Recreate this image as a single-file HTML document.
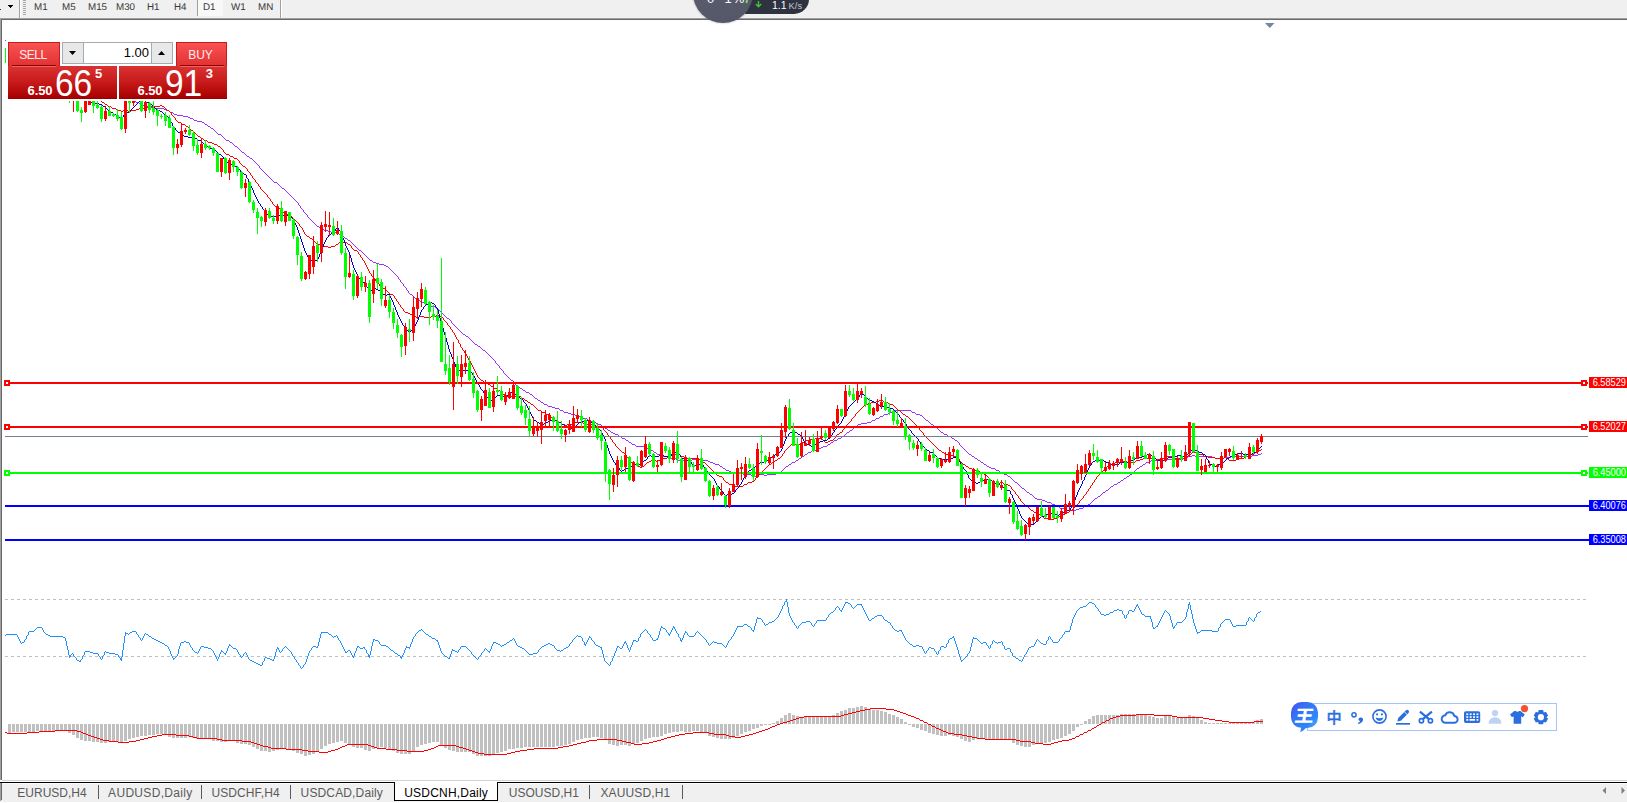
<!DOCTYPE html>
<html><head><meta charset="utf-8"><title>USDCNH,Daily</title>
<style>
html,body{margin:0;padding:0}
body{width:1627px;height:803px;overflow:hidden;background:#fff;position:relative;font-family:"Liberation Sans","Noto Sans CJK SC",sans-serif}
.abs{position:absolute}
#topbar{left:0;top:0;width:1627px;height:18px;background:#f0f0f0}
#topline1{left:0;top:18px;width:1627px;height:1px;background:#a0a0a0}
#topline2{left:1px;top:19px;width:1626px;height:1px;background:#696969}
#leftl1{left:0;top:18px;width:1px;height:762px;background:#a0a0a0}
#leftl2{left:1px;top:19px;width:1px;height:761px;background:#696969}
.tf{position:absolute;top:1px;height:13px;line-height:13px;font-size:9.8px;text-rendering:geometricPrecision;color:#383838;white-space:nowrap}
#tabbar{left:0;top:783px;width:1627px;height:19px;background:#f0f0f0;border-top:1px solid #fafafa;box-sizing:border-box}
#tabline0{left:2px;top:780px;width:1625px;height:1px;background:#d2d2d2;z-index:3}
#tabline{left:0;top:782px;width:1627px;height:1px;background:#000}
.tab{position:absolute;margin-left:0.5px;top:785.6px;height:15px;line-height:15px;font-size:12px;color:#5a5a5a;white-space:nowrap}
.sep{position:absolute;top:785px;width:1px;height:14px;background:#5a5a5a}
#acttab{left:394px;top:782px;width:102px;height:18px;background:#fff;border:1px solid #000;border-top:none}
/* trade panel */
.rbtn{position:absolute;background:linear-gradient(#f85252,#e23232);border:1px solid #c81c1c;border-bottom:none;box-sizing:border-box;color:#ffecec;font-size:12px;text-align:center;letter-spacing:-0.5px}
.pbox{position:absolute;top:66px;height:33px;background:linear-gradient(#da3232 0%,#c81a1a 50%,#a80000 100%);color:#fff;box-sizing:border-box;border-bottom:1px solid #9a0000}
.pbox span{position:absolute;white-space:nowrap}
.sm{font-size:13px;font-weight:bold;top:17.7px;line-height:14px;letter-spacing:-0.1px}
.bg{font-size:36px;top:-2px;line-height:34px;margin-top:2.6px;transform:scaleX(.93);transform-origin:0 0}
.sup{font-size:13px;font-weight:bold;top:1.5px;line-height:12px}
</style></head><body>
<svg id="chart" width="1627" height="803" viewBox="0 0 1627 803" style="position:absolute;left:0;top:0">
<defs><clipPath id="cp"><rect x="0" y="101" width="1627" height="500"/></clipPath></defs>
<g clip-path="url(#cp)"><path d="M259 166h1v2h-1zM298 203h1v2h-1zM300 206h1v2h-1zM303 210h1v2h-1zM307 215h1v2h-1zM398 277h1v2h-1zM400 280h1v2h-1zM403 284h1v2h-1zM406 288h1v2h-1zM408 291h1v2h-1zM451 321h1v2h-1zM495 361h1v2h-1zM499 366h1v2h-1zM503 371h1v2h-1zM515 383h1v2h-1zM959 443h1v2h-1zM135 101h1v1h-1zM136 102h3v1h-3zM139 103h1v1h-1zM140 104h3v1h-3zM143 105h1v1h-1zM144 106h4v1h-4zM148 107h7v1h-7zM155 108h9v1h-9zM164 109h2v1h-2zM166 110h3v1h-3zM169 111h1v1h-1zM170 112h3v1h-3zM173 113h1v1h-1zM174 114h3v1h-3zM177 115h6v1h-6zM183 116h5v1h-5zM188 117h2v1h-2zM190 118h3v1h-3zM193 119h1v1h-1zM194 120h3v1h-3zM197 121h5v1h-5zM202 122h2v1h-2zM204 123h1v1h-1zM205 124h2v1h-2zM207 125h1v1h-1zM208 126h2v1h-2zM210 127h1v1h-1zM211 128h2v1h-2zM213 129h1v1h-1zM214 130h1v1h-1zM215 131h1v1h-1zM216 132h1v1h-1zM217 133h1v1h-1zM218 134h3v1h-3zM221 135h1v1h-1zM222 136h1v1h-1zM223 137h1v1h-1zM224 138h1v1h-1zM225 139h1v1h-1zM226 140h3v1h-3zM229 141h1v1h-1zM230 142h2v1h-2zM232 143h1v1h-1zM233 144h1v1h-1zM234 145h1v1h-1zM235 146h2v1h-2zM237 147h1v1h-1zM238 148h1v1h-1zM239 149h1v1h-1zM240 150h1v1h-1zM241 151h1v1h-1zM242 152h2v1h-2zM244 153h1v1h-1zM245 154h1v1h-1zM246 155h1v1h-1zM247 156h2v1h-2zM249 157h1v1h-1zM250 158h2v1h-2zM252 159h1v1h-1zM253 160h1v1h-1zM254 161h1v1h-1zM255 162h1v1h-1zM256 163h1v1h-1zM257 164h1v1h-1zM258 165h1v1h-1zM260 168h1v1h-1zM261 169h1v1h-1zM262 170h1v1h-1zM263 171h1v1h-1zM264 172h1v1h-1zM265 173h1v1h-1zM266 174h1v1h-1zM267 175h1v1h-1zM268 176h1v1h-1zM269 177h1v1h-1zM270 178h1v1h-1zM271 179h1v1h-1zM272 180h1v1h-1zM273 181h1v1h-1zM274 182h3v1h-3zM277 183h1v1h-1zM278 184h1v1h-1zM279 185h1v1h-1zM280 186h1v1h-1zM281 187h1v1h-1zM282 188h2v1h-2zM284 189h1v1h-1zM285 190h1v1h-1zM286 191h1v1h-1zM287 192h1v1h-1zM288 193h1v1h-1zM289 194h1v1h-1zM290 195h1v1h-1zM291 196h1v1h-1zM292 197h1v1h-1zM293 198h1v1h-1zM294 199h1v1h-1zM295 200h1v1h-1zM296 201h1v1h-1zM297 202h1v1h-1zM299 205h1v1h-1zM301 208h1v1h-1zM302 209h1v1h-1zM304 212h1v1h-1zM305 213h1v1h-1zM306 214h1v1h-1zM308 217h1v1h-1zM309 218h1v1h-1zM310 219h1v1h-1zM311 220h1v1h-1zM312 221h1v1h-1zM313 222h1v1h-1zM314 223h1v1h-1zM315 224h1v1h-1zM316 225h1v1h-1zM317 226h2v1h-2zM319 227h1v1h-1zM320 228h3v1h-3zM323 229h1v1h-1zM324 230h4v1h-4zM328 231h3v1h-3zM331 232h5v1h-5zM336 233h3v1h-3zM339 234h3v1h-3zM342 235h1v1h-1zM343 236h1v1h-1zM344 237h1v1h-1zM345 238h2v1h-2zM347 239h1v1h-1zM348 240h2v1h-2zM350 241h1v1h-1zM351 242h1v1h-1zM352 243h1v1h-1zM353 244h1v1h-1zM354 245h1v1h-1zM355 246h1v1h-1zM356 247h1v1h-1zM357 248h1v1h-1zM358 249h1v1h-1zM359 250h2v1h-2zM361 251h1v1h-1zM362 252h1v1h-1zM363 253h1v1h-1zM364 254h1v1h-1zM365 255h1v1h-1zM366 256h1v1h-1zM367 257h1v1h-1zM368 258h1v1h-1zM369 259h1v1h-1zM370 260h2v1h-2zM372 261h1v1h-1zM373 262h3v1h-3zM376 263h3v1h-3zM379 264h5v1h-5zM384 265h2v1h-2zM386 266h2v1h-2zM388 267h1v1h-1zM389 268h1v1h-1zM390 269h1v1h-1zM391 270h1v1h-1zM392 271h1v1h-1zM393 272h1v1h-1zM394 273h1v1h-1zM395 274h1v1h-1zM396 275h1v1h-1zM397 276h1v1h-1zM399 279h1v1h-1zM401 282h1v1h-1zM402 283h1v1h-1zM404 286h1v1h-1zM405 287h1v1h-1zM407 290h1v1h-1zM409 293h1v1h-1zM410 294h2v1h-2zM412 295h1v1h-1zM413 296h1v1h-1zM414 297h1v1h-1zM415 298h1v1h-1zM416 299h1v1h-1zM417 300h3v1h-3zM420 301h2v1h-2zM422 302h3v1h-3zM425 303h1v1h-1zM426 304h3v1h-3zM429 305h2v1h-2zM431 306h4v1h-4zM435 307h1v1h-1zM436 308h2v1h-2zM438 309h1v1h-1zM439 310h1v1h-1zM440 311h1v1h-1zM441 312h1v1h-1zM442 313h1v1h-1zM443 314h1v1h-1zM444 315h1v1h-1zM445 316h1v1h-1zM446 317h1v1h-1zM447 318h2v1h-2zM449 319h1v1h-1zM450 320h1v1h-1zM452 323h1v1h-1zM453 324h1v1h-1zM454 325h1v1h-1zM455 326h1v1h-1zM456 327h1v1h-1zM457 328h1v1h-1zM458 329h1v1h-1zM459 330h1v1h-1zM460 331h1v1h-1zM461 332h1v1h-1zM462 333h1v1h-1zM463 334h2v1h-2zM465 335h1v1h-1zM466 336h2v1h-2zM468 337h1v1h-1zM469 338h1v1h-1zM470 339h1v1h-1zM471 340h1v1h-1zM472 341h1v1h-1zM473 342h1v1h-1zM474 343h1v1h-1zM475 344h2v1h-2zM477 345h1v1h-1zM478 346h2v1h-2zM480 347h1v1h-1zM481 348h1v1h-1zM482 349h1v1h-1zM483 350h2v1h-2zM485 351h1v1h-1zM486 352h1v1h-1zM487 353h1v1h-1zM488 354h1v1h-1zM489 355h1v1h-1zM490 356h1v1h-1zM491 357h1v1h-1zM492 358h1v1h-1zM493 359h1v1h-1zM494 360h1v1h-1zM496 363h1v1h-1zM497 364h1v1h-1zM498 365h1v1h-1zM500 368h1v1h-1zM501 369h1v1h-1zM502 370h1v1h-1zM504 373h1v1h-1zM505 374h1v1h-1zM506 375h1v1h-1zM507 376h1v1h-1zM508 377h1v1h-1zM509 378h1v1h-1zM510 379h1v1h-1zM511 380h2v1h-2zM513 381h1v1h-1zM514 382h1v1h-1zM516 385h1v1h-1zM517 386h2v1h-2zM519 387h1v1h-1zM520 388h2v1h-2zM522 389h1v1h-1zM523 390h2v1h-2zM525 391h1v1h-1zM526 392h3v1h-3zM529 393h1v1h-1zM530 394h2v1h-2zM532 395h1v1h-1zM533 396h1v1h-1zM534 397h1v1h-1zM535 398h2v1h-2zM537 399h1v1h-1zM538 400h2v1h-2zM540 401h1v1h-1zM541 402h2v1h-2zM543 403h1v1h-1zM544 404h3v1h-3zM547 405h1v1h-1zM548 406h4v1h-4zM552 407h3v1h-3zM555 408h4v1h-4zM559 409h1v1h-1zM560 410h3v1h-3zM895 410h16v1h-16zM563 411h1v1h-1zM893 411h2v1h-2zM911 411h1v1h-1zM564 412h4v1h-4zM890 412h3v1h-3zM912 412h3v1h-3zM568 413h3v1h-3zM888 413h2v1h-2zM915 413h1v1h-1zM571 414h4v1h-4zM884 414h4v1h-4zM916 414h4v1h-4zM575 415h1v1h-1zM883 415h1v1h-1zM920 415h2v1h-2zM576 416h4v1h-4zM880 416h3v1h-3zM922 416h1v1h-1zM580 417h3v1h-3zM879 417h1v1h-1zM923 417h1v1h-1zM583 418h4v1h-4zM876 418h3v1h-3zM924 418h1v1h-1zM587 419h1v1h-1zM875 419h1v1h-1zM925 419h1v1h-1zM588 420h3v1h-3zM872 420h3v1h-3zM926 420h2v1h-2zM591 421h1v1h-1zM871 421h1v1h-1zM928 421h1v1h-1zM592 422h4v1h-4zM867 422h4v1h-4zM929 422h1v1h-1zM596 423h2v1h-2zM861 423h6v1h-6zM930 423h1v1h-1zM598 424h3v1h-3zM858 424h3v1h-3zM931 424h2v1h-2zM601 425h1v1h-1zM857 425h1v1h-1zM933 425h1v1h-1zM602 426h2v1h-2zM855 426h2v1h-2zM934 426h2v1h-2zM604 427h1v1h-1zM854 427h1v1h-1zM936 427h1v1h-1zM605 428h2v1h-2zM853 428h1v1h-1zM937 428h1v1h-1zM607 429h1v1h-1zM852 429h1v1h-1zM938 429h1v1h-1zM608 430h2v1h-2zM850 430h2v1h-2zM939 430h1v1h-1zM610 431h1v1h-1zM849 431h1v1h-1zM940 431h1v1h-1zM611 432h2v1h-2zM847 432h2v1h-2zM941 432h2v1h-2zM613 433h2v1h-2zM846 433h1v1h-1zM943 433h1v1h-1zM615 434h3v1h-3zM845 434h1v1h-1zM944 434h3v1h-3zM618 435h1v1h-1zM844 435h1v1h-1zM947 435h1v1h-1zM619 436h2v1h-2zM842 436h2v1h-2zM948 436h3v1h-3zM621 437h1v1h-1zM841 437h1v1h-1zM951 437h1v1h-1zM622 438h3v1h-3zM838 438h3v1h-3zM952 438h2v1h-2zM625 439h1v1h-1zM837 439h1v1h-1zM954 439h1v1h-1zM626 440h2v1h-2zM834 440h3v1h-3zM955 440h2v1h-2zM628 441h1v1h-1zM833 441h1v1h-1zM957 441h1v1h-1zM629 442h2v1h-2zM831 442h2v1h-2zM958 442h1v1h-1zM631 443h1v1h-1zM830 443h1v1h-1zM632 444h3v1h-3zM828 444h2v1h-2zM635 445h1v1h-1zM827 445h1v1h-1zM960 445h1v1h-1zM636 446h8v1h-8zM823 446h4v1h-4zM961 446h1v1h-1zM644 447h2v1h-2zM821 447h2v1h-2zM962 447h1v1h-1zM646 448h3v1h-3zM818 448h3v1h-3zM963 448h1v1h-1zM649 449h1v1h-1zM816 449h2v1h-2zM964 449h1v1h-1zM650 450h3v1h-3zM812 450h4v1h-4zM965 450h1v1h-1zM653 451h1v1h-1zM811 451h1v1h-1zM966 451h1v1h-1zM654 452h2v1h-2zM808 452h3v1h-3zM967 452h1v1h-1zM656 453h1v1h-1zM807 453h1v1h-1zM968 453h1v1h-1zM1261 453h1v1h-1zM657 454h3v1h-3zM805 454h2v1h-2zM969 454h2v1h-2zM1258 454h3v1h-3zM660 455h3v1h-3zM804 455h1v1h-1zM971 455h1v1h-1zM1192 455h3v1h-3zM1252 455h6v1h-6zM663 456h4v1h-4zM802 456h2v1h-2zM972 456h2v1h-2zM1188 456h4v1h-4zM1195 456h17v1h-17zM1231 456h21v1h-21zM667 457h1v1h-1zM801 457h1v1h-1zM974 457h1v1h-1zM1187 457h1v1h-1zM1212 457h3v1h-3zM1224 457h7v1h-7zM668 458h8v1h-8zM799 458h2v1h-2zM975 458h2v1h-2zM1183 458h4v1h-4zM1215 458h9v1h-9zM676 459h2v1h-2zM692 459h11v1h-11zM798 459h1v1h-1zM977 459h1v1h-1zM1164 459h19v1h-19zM678 460h3v1h-3zM683 460h9v1h-9zM703 460h5v1h-5zM796 460h2v1h-2zM978 460h2v1h-2zM1151 460h13v1h-13zM681 461h2v1h-2zM708 461h2v1h-2zM795 461h1v1h-1zM980 461h1v1h-1zM1149 461h2v1h-2zM710 462h3v1h-3zM792 462h3v1h-3zM981 462h2v1h-2zM1146 462h3v1h-3zM713 463h2v1h-2zM791 463h1v1h-1zM983 463h1v1h-1zM1145 463h1v1h-1zM715 464h4v1h-4zM789 464h2v1h-2zM984 464h2v1h-2zM1143 464h2v1h-2zM719 465h1v1h-1zM788 465h1v1h-1zM986 465h1v1h-1zM1142 465h1v1h-1zM720 466h2v1h-2zM786 466h2v1h-2zM987 466h2v1h-2zM1140 466h2v1h-2zM722 467h1v1h-1zM785 467h1v1h-1zM989 467h2v1h-2zM1139 467h1v1h-1zM723 468h2v1h-2zM784 468h1v1h-1zM991 468h4v1h-4zM1137 468h2v1h-2zM725 469h1v1h-1zM783 469h1v1h-1zM995 469h1v1h-1zM1136 469h1v1h-1zM726 470h3v1h-3zM782 470h1v1h-1zM996 470h3v1h-3zM1135 470h1v1h-1zM729 471h2v1h-2zM781 471h1v1h-1zM999 471h1v1h-1zM1134 471h1v1h-1zM731 472h9v1h-9zM778 472h3v1h-3zM1000 472h3v1h-3zM1133 472h1v1h-1zM740 473h3v1h-3zM776 473h2v1h-2zM1003 473h1v1h-1zM1132 473h1v1h-1zM743 474h8v1h-8zM759 474h5v1h-5zM767 474h9v1h-9zM1004 474h3v1h-3zM1130 474h2v1h-2zM751 475h1v1h-1zM756 475h3v1h-3zM764 475h3v1h-3zM1007 475h1v1h-1zM1129 475h1v1h-1zM752 476h4v1h-4zM1008 476h2v1h-2zM1127 476h2v1h-2zM1010 477h1v1h-1zM1126 477h1v1h-1zM1011 478h1v1h-1zM1124 478h2v1h-2zM1012 479h1v1h-1zM1123 479h1v1h-1zM1013 480h1v1h-1zM1121 480h2v1h-2zM1014 481h1v1h-1zM1120 481h1v1h-1zM1015 482h2v1h-2zM1118 482h2v1h-2zM1017 483h1v1h-1zM1117 483h1v1h-1zM1018 484h1v1h-1zM1114 484h3v1h-3zM1019 485h1v1h-1zM1113 485h1v1h-1zM1020 486h1v1h-1zM1111 486h2v1h-2zM1021 487h1v1h-1zM1110 487h1v1h-1zM1022 488h2v1h-2zM1109 488h1v1h-1zM1024 489h1v1h-1zM1108 489h1v1h-1zM1025 490h1v1h-1zM1106 490h2v1h-2zM1026 491h1v1h-1zM1105 491h1v1h-1zM1027 492h2v1h-2zM1103 492h2v1h-2zM1029 493h1v1h-1zM1102 493h1v1h-1zM1030 494h2v1h-2zM1101 494h1v1h-1zM1032 495h1v1h-1zM1100 495h1v1h-1zM1033 496h1v1h-1zM1098 496h2v1h-2zM1034 497h1v1h-1zM1097 497h1v1h-1zM1035 498h2v1h-2zM1095 498h2v1h-2zM1037 499h5v1h-5zM1094 499h1v1h-1zM1042 500h3v1h-3zM1093 500h1v1h-1zM1045 501h2v1h-2zM1092 501h1v1h-1zM1047 502h4v1h-4zM1091 502h1v1h-1zM1051 503h1v1h-1zM1090 503h1v1h-1zM1052 504h3v1h-3zM1088 504h2v1h-2zM1055 505h1v1h-1zM1087 505h1v1h-1zM1056 506h3v1h-3zM1084 506h3v1h-3zM1059 507h1v1h-1zM1083 507h1v1h-1zM1060 508h4v1h-4zM1079 508h4v1h-4zM1064 509h3v1h-3zM1076 509h3v1h-3zM1067 510h9v1h-9z" fill="#9932ff" shape-rendering="crispEdges"/>
<path d="M171 113h1v2h-1zM175 118h1v2h-1zM223 150h1v2h-1zM239 161h1v2h-1zM247 169h1v2h-1zM250 173h1v2h-1zM252 176h1v2h-1zM255 180h1v2h-1zM258 184h1v2h-1zM260 187h1v2h-1zM267 195h1v2h-1zM270 199h1v2h-1zM272 202h1v2h-1zM299 224h1v2h-1zM302 228h1v2h-1zM303 230h1v2h-1zM304 232h1v2h-1zM351 246h1v2h-1zM358 252h1v2h-1zM360 255h1v2h-1zM362 258h1v2h-1zM364 261h1v2h-1zM365 263h1v2h-1zM366 265h1v2h-1zM367 267h1v2h-1zM368 269h1v2h-1zM369 271h1v2h-1zM371 274h1v2h-1zM375 279h1v2h-1zM379 284h1v2h-1zM394 296h1v2h-1zM396 299h1v2h-1zM398 302h1v2h-1zM400 305h1v2h-1zM403 309h1v2h-1zM443 318h1v2h-1zM447 323h1v2h-1zM450 327h1v2h-1zM452 330h1v2h-1zM454 333h1v2h-1zM455 335h1v2h-1zM456 337h1v2h-1zM458 340h1v3h-1zM460 344h1v3h-1zM462 348h1v2h-1zM464 351h1v2h-1zM466 354h1v2h-1zM467 356h1v2h-1zM468 358h1v2h-1zM470 361h1v2h-1zM471 363h1v2h-1zM472 365h1v2h-1zM473 367h1v2h-1zM474 369h1v2h-1zM475 371h1v2h-1zM476 373h1v2h-1zM477 375h1v2h-1zM603 428h1v2h-1zM607 433h1v2h-1zM610 437h1v2h-1zM612 440h1v2h-1zM615 444h1v2h-1zM626 455h1v2h-1zM628 458h1v2h-1zM723 478h1v2h-1zM755 478h1v2h-1zM782 454h1v2h-1zM784 451h1v2h-1zM835 436h1v2h-1zM842 430h1v2h-1zM844 427h1v2h-1zM851 419h1v2h-1zM855 414h1v2h-1zM919 428h1v2h-1zM923 433h1v2h-1zM959 459h1v2h-1zM1011 487h1v2h-1zM1015 492h1v2h-1zM1018 496h1v2h-1zM1020 499h1v2h-1zM1079 501h1v2h-1zM1083 496h1v2h-1zM1086 492h1v2h-1zM1088 489h1v2h-1zM1090 486h1v2h-1zM1092 483h1v2h-1zM1094 480h1v2h-1zM1096 477h1v2h-1zM101 101h1v1h-1zM102 102h2v1h-2zM104 103h1v1h-1zM105 104h2v1h-2zM107 105h1v1h-1zM160 105h2v1h-2zM108 106h3v1h-3zM151 106h9v1h-9zM162 106h2v1h-2zM111 107h1v1h-1zM144 107h7v1h-7zM164 107h1v1h-1zM112 108h4v1h-4zM139 108h5v1h-5zM165 108h1v1h-1zM116 109h2v1h-2zM136 109h3v1h-3zM166 109h1v1h-1zM118 110h3v1h-3zM123 110h5v1h-5zM131 110h5v1h-5zM167 110h2v1h-2zM121 111h2v1h-2zM128 111h3v1h-3zM169 111h1v1h-1zM170 112h1v1h-1zM172 115h1v1h-1zM173 116h1v1h-1zM174 117h1v1h-1zM176 120h1v1h-1zM177 121h1v1h-1zM178 122h3v1h-3zM181 123h1v1h-1zM182 124h3v1h-3zM185 125h1v1h-1zM186 126h2v1h-2zM188 127h1v1h-1zM189 128h1v1h-1zM190 129h1v1h-1zM191 130h2v1h-2zM193 131h1v1h-1zM194 132h1v1h-1zM195 133h1v1h-1zM196 134h1v1h-1zM197 135h1v1h-1zM198 136h2v1h-2zM200 137h1v1h-1zM201 138h2v1h-2zM203 139h1v1h-1zM204 140h3v1h-3zM207 141h1v1h-1zM208 142h4v1h-4zM212 143h2v1h-2zM214 144h3v1h-3zM217 145h1v1h-1zM218 146h2v1h-2zM220 147h1v1h-1zM221 148h1v1h-1zM222 149h1v1h-1zM224 152h1v1h-1zM225 153h1v1h-1zM226 154h3v1h-3zM229 155h1v1h-1zM230 156h3v1h-3zM233 157h1v1h-1zM234 158h3v1h-3zM237 159h1v1h-1zM238 160h1v1h-1zM240 163h1v1h-1zM241 164h1v1h-1zM242 165h1v1h-1zM243 166h2v1h-2zM245 167h1v1h-1zM246 168h1v1h-1zM248 171h1v1h-1zM249 172h1v1h-1zM251 175h1v1h-1zM253 178h1v1h-1zM254 179h1v1h-1zM256 182h1v1h-1zM257 183h1v1h-1zM259 186h1v1h-1zM261 189h1v1h-1zM262 190h1v1h-1zM263 191h1v1h-1zM264 192h1v1h-1zM265 193h1v1h-1zM266 194h1v1h-1zM268 197h1v1h-1zM269 198h1v1h-1zM271 201h1v1h-1zM273 204h1v1h-1zM274 205h1v1h-1zM275 206h2v1h-2zM277 207h1v1h-1zM278 208h2v1h-2zM280 209h1v1h-1zM281 210h1v1h-1zM282 211h1v1h-1zM283 212h2v1h-2zM285 213h1v1h-1zM286 214h3v1h-3zM289 215h1v1h-1zM290 216h2v1h-2zM292 217h1v1h-1zM293 218h1v1h-1zM294 219h1v1h-1zM295 220h1v1h-1zM296 221h1v1h-1zM297 222h1v1h-1zM298 223h1v1h-1zM300 226h1v1h-1zM301 227h1v1h-1zM305 234h1v1h-1zM306 235h1v1h-1zM307 236h2v1h-2zM309 237h1v1h-1zM310 238h2v1h-2zM312 239h1v1h-1zM313 240h1v1h-1zM314 241h1v1h-1zM341 241h2v1h-2zM315 242h1v1h-1zM339 242h2v1h-2zM343 242h4v1h-4zM316 243h1v1h-1zM338 243h1v1h-1zM347 243h1v1h-1zM317 244h3v1h-3zM336 244h2v1h-2zM348 244h2v1h-2zM320 245h3v1h-3zM335 245h1v1h-1zM350 245h1v1h-1zM323 246h5v1h-5zM331 246h4v1h-4zM328 247h3v1h-3zM352 248h1v1h-1zM353 249h1v1h-1zM354 250h3v1h-3zM357 251h1v1h-1zM359 254h1v1h-1zM361 257h1v1h-1zM363 260h1v1h-1zM370 273h1v1h-1zM372 276h1v1h-1zM373 277h1v1h-1zM374 278h1v1h-1zM376 281h1v1h-1zM377 282h1v1h-1zM378 283h1v1h-1zM380 286h1v1h-1zM381 287h1v1h-1zM382 288h3v1h-3zM385 289h1v1h-1zM386 290h1v1h-1zM387 291h1v1h-1zM388 292h1v1h-1zM389 293h1v1h-1zM390 294h3v1h-3zM393 295h1v1h-1zM395 298h1v1h-1zM397 301h1v1h-1zM399 304h1v1h-1zM401 307h1v1h-1zM402 308h1v1h-1zM404 311h1v1h-1zM405 312h3v1h-3zM408 313h2v1h-2zM410 314h2v1h-2zM412 315h1v1h-1zM436 315h3v1h-3zM413 316h3v1h-3zM419 316h5v1h-5zM431 316h5v1h-5zM439 316h3v1h-3zM416 317h3v1h-3zM424 317h7v1h-7zM442 317h1v1h-1zM444 320h1v1h-1zM445 321h1v1h-1zM446 322h1v1h-1zM448 325h1v1h-1zM449 326h1v1h-1zM451 329h1v1h-1zM453 332h1v1h-1zM457 339h1v1h-1zM459 343h1v1h-1zM461 347h1v1h-1zM463 350h1v1h-1zM465 353h1v1h-1zM469 360h1v1h-1zM478 377h1v1h-1zM479 378h1v1h-1zM480 379h1v1h-1zM481 380h2v1h-2zM483 381h1v1h-1zM484 382h3v1h-3zM487 383h1v1h-1zM488 384h2v1h-2zM490 385h1v1h-1zM491 386h2v1h-2zM493 387h1v1h-1zM494 388h3v1h-3zM497 389h1v1h-1zM498 390h2v1h-2zM500 391h1v1h-1zM501 392h1v1h-1zM502 393h1v1h-1zM503 394h2v1h-2zM505 395h2v1h-2zM516 395h2v1h-2zM507 396h9v1h-9zM518 396h3v1h-3zM521 397h1v1h-1zM522 398h2v1h-2zM524 399h1v1h-1zM525 400h2v1h-2zM879 400h4v1h-4zM527 401h1v1h-1zM876 401h3v1h-3zM883 401h1v1h-1zM528 402h2v1h-2zM871 402h5v1h-5zM884 402h4v1h-4zM530 403h1v1h-1zM868 403h3v1h-3zM888 403h2v1h-2zM531 404h2v1h-2zM865 404h3v1h-3zM890 404h3v1h-3zM533 405h1v1h-1zM864 405h1v1h-1zM893 405h1v1h-1zM534 406h1v1h-1zM863 406h1v1h-1zM894 406h1v1h-1zM535 407h1v1h-1zM862 407h1v1h-1zM895 407h1v1h-1zM536 408h1v1h-1zM861 408h1v1h-1zM896 408h1v1h-1zM537 409h1v1h-1zM860 409h1v1h-1zM897 409h1v1h-1zM538 410h3v1h-3zM859 410h1v1h-1zM898 410h2v1h-2zM541 411h1v1h-1zM858 411h1v1h-1zM900 411h1v1h-1zM542 412h3v1h-3zM857 412h1v1h-1zM901 412h1v1h-1zM545 413h1v1h-1zM856 413h1v1h-1zM902 413h1v1h-1zM546 414h3v1h-3zM903 414h2v1h-2zM549 415h1v1h-1zM905 415h1v1h-1zM550 416h1v1h-1zM854 416h1v1h-1zM906 416h2v1h-2zM551 417h1v1h-1zM853 417h1v1h-1zM908 417h1v1h-1zM552 418h1v1h-1zM852 418h1v1h-1zM909 418h1v1h-1zM553 419h1v1h-1zM910 419h1v1h-1zM554 420h3v1h-3zM911 420h1v1h-1zM557 421h1v1h-1zM850 421h1v1h-1zM912 421h1v1h-1zM558 422h3v1h-3zM575 422h8v1h-8zM849 422h1v1h-1zM913 422h1v1h-1zM561 423h1v1h-1zM572 423h3v1h-3zM583 423h1v1h-1zM848 423h1v1h-1zM914 423h1v1h-1zM562 424h3v1h-3zM567 424h5v1h-5zM584 424h8v1h-8zM847 424h1v1h-1zM915 424h1v1h-1zM565 425h2v1h-2zM592 425h3v1h-3zM846 425h1v1h-1zM916 425h1v1h-1zM595 426h7v1h-7zM845 426h1v1h-1zM917 426h1v1h-1zM602 427h1v1h-1zM918 427h1v1h-1zM604 430h1v1h-1zM920 430h1v1h-1zM605 431h1v1h-1zM921 431h1v1h-1zM606 432h1v1h-1zM840 432h2v1h-2zM922 432h1v1h-1zM608 435h1v1h-1zM836 435h1v1h-1zM924 435h1v1h-1zM609 436h1v1h-1zM925 436h1v1h-1zM611 439h1v1h-1zM809 439h6v1h-6zM822 439h1v1h-1zM833 439h1v1h-1zM928 439h1v1h-1zM613 442h1v1h-1zM802 442h3v1h-3zM825 442h3v1h-3zM931 442h1v1h-1zM614 443h1v1h-1zM793 443h2v1h-2zM800 443h2v1h-2zM932 443h1v1h-1zM616 446h1v1h-1zM789 446h1v1h-1zM935 446h1v1h-1zM617 447h1v1h-1zM788 447h1v1h-1zM936 447h1v1h-1zM618 448h1v1h-1zM787 448h1v1h-1zM937 448h1v1h-1zM619 449h1v1h-1zM786 449h1v1h-1zM938 449h1v1h-1zM1261 449h1v1h-1zM620 450h1v1h-1zM785 450h1v1h-1zM939 450h2v1h-2zM1258 450h3v1h-3zM621 451h1v1h-1zM941 451h1v1h-1zM1257 451h1v1h-1zM622 452h2v1h-2zM942 452h2v1h-2zM1192 452h4v1h-4zM1255 452h2v1h-2zM624 453h1v1h-1zM676 453h2v1h-2zM783 453h1v1h-1zM944 453h1v1h-1zM1191 453h1v1h-1zM1196 453h3v1h-3zM1254 453h1v1h-1zM625 454h1v1h-1zM672 454h4v1h-4zM678 454h2v1h-2zM945 454h3v1h-3zM1189 454h2v1h-2zM1199 454h4v1h-4zM1251 454h3v1h-3zM627 457h1v1h-1zM667 457h1v1h-1zM684 457h3v1h-3zM780 457h1v1h-1zM957 457h1v1h-1zM1148 457h3v1h-3zM1164 457h1v1h-1zM1172 457h3v1h-3zM1184 457h2v1h-2zM1208 457h7v1h-7zM1224 457h2v1h-2zM1244 457h2v1h-2zM629 460h1v1h-1zM651 460h5v1h-5zM658 460h2v1h-2zM700 460h2v1h-2zM775 460h2v1h-2zM1136 460h4v1h-4zM1229 460h7v1h-7zM630 461h1v1h-1zM649 461h2v1h-2zM656 461h2v1h-2zM702 461h1v1h-1zM774 461h1v1h-1zM960 461h1v1h-1zM1120 461h7v1h-7zM1135 461h1v1h-1zM631 462h2v1h-2zM647 462h2v1h-2zM703 462h2v1h-2zM772 462h2v1h-2zM961 462h1v1h-1zM1115 462h5v1h-5zM1127 462h8v1h-8zM633 463h1v1h-1zM646 463h1v1h-1zM705 463h1v1h-1zM771 463h1v1h-1zM962 463h1v1h-1zM1112 463h3v1h-3zM634 464h2v1h-2zM645 464h1v1h-1zM706 464h1v1h-1zM769 464h2v1h-2zM963 464h2v1h-2zM1109 464h3v1h-3zM636 465h1v1h-1zM644 465h1v1h-1zM707 465h1v1h-1zM768 465h1v1h-1zM965 465h1v1h-1zM1108 465h1v1h-1zM637 466h3v1h-3zM642 466h2v1h-2zM708 466h1v1h-1zM767 466h1v1h-1zM966 466h2v1h-2zM1107 466h1v1h-1zM640 467h2v1h-2zM709 467h1v1h-1zM766 467h1v1h-1zM968 467h1v1h-1zM1106 467h1v1h-1zM660 459h1v1h-1zM699 459h1v1h-1zM777 459h1v1h-1zM1140 459h3v1h-3zM1156 459h6v1h-6zM1228 459h1v1h-1zM1236 459h3v1h-3zM661 458h6v1h-6zM687 458h12v1h-12zM778 458h2v1h-2zM958 458h1v1h-1zM1143 458h5v1h-5zM1151 458h5v1h-5zM1162 458h2v1h-2zM1175 458h9v1h-9zM1215 458h9v1h-9zM1226 458h2v1h-2zM1239 458h5v1h-5zM668 456h3v1h-3zM681 456h3v1h-3zM781 456h1v1h-1zM954 456h3v1h-3zM1165 456h7v1h-7zM1186 456h2v1h-2zM1204 456h4v1h-4zM1246 456h3v1h-3zM671 455h1v1h-1zM680 455h1v1h-1zM948 455h6v1h-6zM1188 455h1v1h-1zM1203 455h1v1h-1zM1249 455h2v1h-2zM710 468h1v1h-1zM765 468h1v1h-1zM969 468h3v1h-3zM1105 468h1v1h-1zM711 469h1v1h-1zM764 469h1v1h-1zM972 469h3v1h-3zM1104 469h1v1h-1zM712 470h1v1h-1zM763 470h1v1h-1zM975 470h4v1h-4zM1103 470h1v1h-1zM713 471h1v1h-1zM762 471h1v1h-1zM979 471h1v1h-1zM1102 471h1v1h-1zM714 472h1v1h-1zM761 472h1v1h-1zM980 472h3v1h-3zM1101 472h1v1h-1zM715 473h1v1h-1zM760 473h1v1h-1zM983 473h1v1h-1zM1100 473h1v1h-1zM716 474h1v1h-1zM759 474h1v1h-1zM984 474h2v1h-2zM1099 474h1v1h-1zM717 475h2v1h-2zM758 475h1v1h-1zM986 475h1v1h-1zM1098 475h1v1h-1zM719 476h3v1h-3zM757 476h1v1h-1zM987 476h1v1h-1zM1097 476h1v1h-1zM722 477h1v1h-1zM756 477h1v1h-1zM988 477h1v1h-1zM724 480h1v1h-1zM754 480h1v1h-1zM991 480h1v1h-1zM725 481h1v1h-1zM752 481h2v1h-2zM992 481h1v1h-1zM726 482h2v1h-2zM748 482h4v1h-4zM993 482h2v1h-2zM1000 482h3v1h-3zM1093 482h1v1h-1zM728 483h1v1h-1zM747 483h1v1h-1zM995 483h1v1h-1zM999 483h1v1h-1zM1003 483h1v1h-1zM729 484h3v1h-3zM744 484h3v1h-3zM996 484h3v1h-3zM1004 484h4v1h-4zM732 485h3v1h-3zM743 485h1v1h-1zM1008 485h2v1h-2zM1091 485h1v1h-1zM735 486h8v1h-8zM1010 486h1v1h-1zM790 445h1v1h-1zM934 445h1v1h-1zM791 444h2v1h-2zM795 444h5v1h-5zM933 444h1v1h-1zM805 441h1v1h-1zM824 441h1v1h-1zM828 441h2v1h-2zM930 441h1v1h-1zM806 440h3v1h-3zM823 440h1v1h-1zM830 440h3v1h-3zM929 440h1v1h-1zM815 438h7v1h-7zM834 438h1v1h-1zM927 438h1v1h-1zM837 434h2v1h-2zM839 433h1v1h-1zM843 429h1v1h-1zM926 437h1v1h-1zM989 478h1v1h-1zM990 479h1v1h-1zM1095 479h1v1h-1zM1012 489h1v1h-1zM1013 490h1v1h-1zM1014 491h1v1h-1zM1087 491h1v1h-1zM1016 494h1v1h-1zM1085 494h1v1h-1zM1017 495h1v1h-1zM1084 495h1v1h-1zM1019 498h1v1h-1zM1082 498h1v1h-1zM1021 501h1v1h-1zM1022 502h1v1h-1zM1023 503h1v1h-1zM1078 503h1v1h-1zM1024 504h1v1h-1zM1077 504h1v1h-1zM1025 505h1v1h-1zM1076 505h1v1h-1zM1026 506h2v1h-2zM1075 506h1v1h-1zM1028 507h1v1h-1zM1074 507h1v1h-1zM1029 508h1v1h-1zM1073 508h1v1h-1zM1030 509h1v1h-1zM1072 509h1v1h-1zM1031 510h2v1h-2zM1070 510h2v1h-2zM1033 511h1v1h-1zM1069 511h1v1h-1zM1034 512h3v1h-3zM1066 512h3v1h-3zM1037 513h1v1h-1zM1065 513h1v1h-1zM1038 514h2v1h-2zM1062 514h3v1h-3zM1040 515h1v1h-1zM1061 515h1v1h-1zM1041 516h2v1h-2zM1058 516h3v1h-3zM1043 517h1v1h-1zM1057 517h1v1h-1zM1044 518h4v1h-4zM1054 518h3v1h-3zM1048 519h6v1h-6zM1080 500h1v1h-1zM1081 499h1v1h-1zM1089 488h1v1h-1z" fill="#ff0000" shape-rendering="crispEdges"/>
<path d="M123 115h1v2h-1zM170 119h1v3h-1zM172 123h1v3h-1zM175 128h1v2h-1zM223 157h1v2h-1zM238 167h1v2h-1zM240 170h1v2h-1zM246 175h1v3h-1zM248 179h1v3h-1zM249 182h1v2h-1zM250 184h1v2h-1zM251 186h1v2h-1zM252 188h1v2h-1zM253 190h1v3h-1zM254 193h1v2h-1zM255 195h1v2h-1zM256 197h1v2h-1zM257 199h1v2h-1zM258 201h1v2h-1zM260 204h1v2h-1zM262 207h1v2h-1zM264 210h1v2h-1zM293 219h1v2h-1zM294 221h1v2h-1zM295 223h1v2h-1zM296 225h1v2h-1zM297 227h1v3h-1zM298 230h1v3h-1zM299 233h1v3h-1zM300 236h1v3h-1zM301 239h1v3h-1zM302 242h1v3h-1zM303 245h1v3h-1zM304 248h1v3h-1zM305 251h1v2h-1zM306 253h1v2h-1zM307 255h1v2h-1zM308 257h1v2h-1zM317 259h1v2h-1zM318 257h1v2h-1zM319 254h1v3h-1zM320 252h1v2h-1zM321 249h1v3h-1zM322 247h1v2h-1zM323 244h1v3h-1zM324 242h1v2h-1zM325 240h1v2h-1zM326 238h1v2h-1zM328 235h1v2h-1zM335 229h1v2h-1zM338 228h1v2h-1zM340 231h1v2h-1zM341 233h1v2h-1zM342 235h1v3h-1zM343 238h1v2h-1zM344 240h1v3h-1zM345 243h1v3h-1zM346 246h1v2h-1zM347 248h1v2h-1zM348 250h1v2h-1zM349 252h1v3h-1zM350 255h1v3h-1zM351 258h1v4h-1zM352 262h1v3h-1zM353 265h1v3h-1zM354 268h1v2h-1zM355 270h1v2h-1zM356 272h1v2h-1zM357 274h1v2h-1zM358 276h1v2h-1zM360 279h1v2h-1zM366 284h1v3h-1zM368 288h1v3h-1zM389 294h1v2h-1zM390 296h1v2h-1zM391 298h1v2h-1zM392 300h1v2h-1zM393 302h1v3h-1zM394 305h1v2h-1zM395 307h1v3h-1zM396 310h1v2h-1zM397 312h1v3h-1zM398 315h1v2h-1zM399 317h1v2h-1zM400 319h1v2h-1zM401 321h1v2h-1zM402 323h1v2h-1zM404 326h1v2h-1zM414 326h1v2h-1zM415 324h1v2h-1zM416 322h1v2h-1zM417 320h1v2h-1zM418 317h1v3h-1zM419 315h1v2h-1zM420 312h1v3h-1zM421 310h1v2h-1zM423 307h1v2h-1zM435 305h1v2h-1zM437 308h1v2h-1zM438 310h1v4h-1zM439 314h1v4h-1zM440 318h1v4h-1zM441 322h1v3h-1zM442 325h1v3h-1zM443 328h1v4h-1zM444 332h1v3h-1zM445 335h1v3h-1zM446 338h1v4h-1zM447 342h1v3h-1zM448 345h1v4h-1zM449 349h1v3h-1zM450 352h1v2h-1zM451 354h1v3h-1zM452 357h1v2h-1zM453 359h1v3h-1zM454 362h1v2h-1zM455 364h1v3h-1zM456 367h1v2h-1zM457 369h1v2h-1zM470 370h1v2h-1zM472 373h1v2h-1zM474 376h1v2h-1zM475 378h1v2h-1zM476 380h1v2h-1zM478 383h1v2h-1zM479 385h1v2h-1zM480 387h1v2h-1zM483 391h1v2h-1zM486 395h1v2h-1zM488 398h1v2h-1zM523 400h1v2h-1zM526 404h1v2h-1zM527 406h1v2h-1zM528 408h1v2h-1zM529 410h1v2h-1zM530 412h1v2h-1zM531 414h1v2h-1zM532 416h1v2h-1zM533 418h1v2h-1zM601 431h1v2h-1zM602 433h1v2h-1zM603 435h1v2h-1zM604 437h1v2h-1zM605 439h1v3h-1zM606 442h1v3h-1zM607 445h1v3h-1zM608 448h1v3h-1zM609 451h1v3h-1zM610 454h1v2h-1zM611 456h1v2h-1zM612 458h1v2h-1zM613 460h1v2h-1zM615 463h1v2h-1zM619 468h1v2h-1zM647 457h1v2h-1zM671 454h1v2h-1zM678 452h1v2h-1zM680 455h1v2h-1zM691 462h1v2h-1zM703 465h1v2h-1zM706 469h1v2h-1zM708 472h1v2h-1zM714 479h1v2h-1zM715 481h1v2h-1zM716 483h1v2h-1zM719 487h1v2h-1zM723 492h1v2h-1zM735 490h1v2h-1zM739 485h1v2h-1zM741 482h1v2h-1zM742 480h1v2h-1zM743 478h1v2h-1zM744 476h1v2h-1zM745 474h1v2h-1zM781 449h1v2h-1zM782 446h1v3h-1zM783 444h1v2h-1zM784 441h1v3h-1zM785 439h1v2h-1zM786 437h1v2h-1zM788 434h1v2h-1zM802 437h1v2h-1zM803 439h1v2h-1zM804 441h1v2h-1zM830 436h1v2h-1zM832 433h1v2h-1zM834 430h1v2h-1zM836 427h1v2h-1zM841 421h1v2h-1zM842 419h1v2h-1zM843 417h1v2h-1zM844 415h1v2h-1zM845 413h1v2h-1zM846 411h1v2h-1zM847 409h1v2h-1zM848 407h1v2h-1zM859 395h1v2h-1zM899 415h1v2h-1zM903 420h1v2h-1zM906 424h1v2h-1zM908 427h1v2h-1zM911 431h1v2h-1zM918 439h1v2h-1zM920 442h1v2h-1zM958 458h1v3h-1zM960 462h1v3h-1zM963 467h1v2h-1zM966 471h1v3h-1zM968 475h1v3h-1zM1010 491h1v3h-1zM1012 495h1v3h-1zM1013 498h1v2h-1zM1014 500h1v2h-1zM1015 502h1v2h-1zM1016 504h1v2h-1zM1017 506h1v3h-1zM1018 509h1v2h-1zM1019 511h1v3h-1zM1020 514h1v2h-1zM1021 516h1v2h-1zM1070 508h1v2h-1zM1071 506h1v2h-1zM1072 504h1v2h-1zM1073 502h1v2h-1zM1074 500h1v2h-1zM1075 497h1v3h-1zM1076 495h1v2h-1zM1077 492h1v3h-1zM1078 490h1v2h-1zM1079 488h1v2h-1zM1080 486h1v2h-1zM1081 484h1v2h-1zM1082 481h1v3h-1zM1084 477h1v3h-1zM1085 475h1v2h-1zM1086 473h1v2h-1zM1087 470h1v3h-1zM1088 468h1v2h-1zM1089 466h1v2h-1zM1091 463h1v2h-1zM1186 455h1v2h-1zM1188 452h1v2h-1zM1206 456h1v3h-1zM1208 460h1v3h-1zM88 101h2v1h-2zM139 101h1v1h-1zM145 101h1v1h-1zM90 102h3v1h-3zM138 102h1v1h-1zM146 102h3v1h-3zM93 103h6v1h-6zM137 103h1v1h-1zM149 103h1v1h-1zM99 104h3v1h-3zM136 104h1v1h-1zM150 104h2v1h-2zM102 105h1v1h-1zM135 105h1v1h-1zM152 105h1v1h-1zM103 106h2v1h-2zM134 106h1v1h-1zM153 106h1v1h-1zM105 107h1v1h-1zM133 107h1v1h-1zM154 107h1v1h-1zM106 108h1v1h-1zM132 108h1v1h-1zM155 108h1v1h-1zM107 109h1v1h-1zM131 109h1v1h-1zM156 109h1v1h-1zM108 110h1v1h-1zM130 110h1v1h-1zM157 110h3v1h-3zM109 111h1v1h-1zM129 111h1v1h-1zM160 111h2v1h-2zM110 112h3v1h-3zM126 112h3v1h-3zM162 112h1v1h-1zM113 113h1v1h-1zM125 113h1v1h-1zM163 113h1v1h-1zM114 114h2v1h-2zM124 114h1v1h-1zM164 114h1v1h-1zM116 115h1v1h-1zM165 115h1v1h-1zM117 116h2v1h-2zM166 116h2v1h-2zM119 117h1v1h-1zM122 117h1v1h-1zM168 117h1v1h-1zM120 118h2v1h-2zM169 118h1v1h-1zM171 122h1v1h-1zM173 126h1v1h-1zM174 127h1v1h-1zM176 130h1v1h-1zM177 131h1v1h-1zM178 132h2v1h-2zM180 133h1v1h-1zM181 134h2v1h-2zM183 135h1v1h-1zM184 136h4v1h-4zM188 137h6v1h-6zM194 138h3v1h-3zM197 139h1v1h-1zM198 140h3v1h-3zM201 141h1v1h-1zM202 142h1v1h-1zM203 143h1v1h-1zM204 144h1v1h-1zM205 145h1v1h-1zM206 146h3v1h-3zM209 147h1v1h-1zM210 148h3v1h-3zM213 149h1v1h-1zM214 150h2v1h-2zM216 151h1v1h-1zM217 152h1v1h-1zM218 153h1v1h-1zM219 154h2v1h-2zM221 155h1v1h-1zM222 156h1v1h-1zM224 159h1v1h-1zM225 160h1v1h-1zM226 161h1v1h-1zM227 162h2v1h-2zM229 163h1v1h-1zM230 164h2v1h-2zM232 165h1v1h-1zM233 166h5v1h-5zM239 169h1v1h-1zM241 172h2v1h-2zM243 173h1v1h-1zM244 174h2v1h-2zM247 178h1v1h-1zM259 203h1v1h-1zM261 206h1v1h-1zM263 209h1v1h-1zM265 212h1v1h-1zM266 213h1v1h-1zM267 214h2v1h-2zM269 215h1v1h-1zM277 215h13v1h-13zM270 216h3v1h-3zM274 216h3v1h-3zM290 216h1v1h-1zM273 217h1v1h-1zM291 217h1v1h-1zM292 218h1v1h-1zM309 259h1v1h-1zM310 260h3v1h-3zM315 260h2v1h-2zM313 261h2v1h-2zM327 237h1v1h-1zM329 234h2v1h-2zM331 233h1v1h-1zM332 232h2v1h-2zM334 231h1v1h-1zM336 228h1v1h-1zM337 227h1v1h-1zM339 230h1v1h-1zM359 278h1v1h-1zM361 281h1v1h-1zM362 282h3v1h-3zM365 283h1v1h-1zM367 287h1v1h-1zM369 291h1v1h-1zM380 291h1v1h-1zM370 290h2v1h-2zM378 290h2v1h-2zM372 289h1v1h-1zM376 289h2v1h-2zM373 288h3v1h-3zM381 292h1v1h-1zM382 293h1v1h-1zM383 294h2v1h-2zM387 294h2v1h-2zM385 295h2v1h-2zM403 325h1v1h-1zM405 328h1v1h-1zM413 328h1v1h-1zM406 329h1v1h-1zM412 329h1v1h-1zM407 330h1v1h-1zM411 330h1v1h-1zM408 331h1v1h-1zM410 331h1v1h-1zM409 332h1v1h-1zM422 309h1v1h-1zM424 306h1v1h-1zM425 305h1v1h-1zM426 304h2v1h-2zM434 304h1v1h-1zM428 303h1v1h-1zM432 303h2v1h-2zM429 302h3v1h-3zM436 307h1v1h-1zM458 370h2v1h-2zM463 370h5v1h-5zM460 371h3v1h-3zM468 369h2v1h-2zM471 372h1v1h-1zM473 375h1v1h-1zM477 382h1v1h-1zM481 389h1v1h-1zM482 390h1v1h-1zM484 393h1v1h-1zM509 393h2v1h-2zM514 393h1v1h-1zM861 393h1v1h-1zM485 394h1v1h-1zM508 394h1v1h-1zM515 394h1v1h-1zM860 394h1v1h-1zM862 394h2v1h-2zM487 397h1v1h-1zM495 397h1v1h-1zM505 397h1v1h-1zM519 397h1v1h-1zM858 397h1v1h-1zM866 397h1v1h-1zM489 400h3v1h-3zM855 400h1v1h-1zM869 400h3v1h-3zM492 399h2v1h-2zM522 399h1v1h-1zM856 399h1v1h-1zM868 399h1v1h-1zM494 398h1v1h-1zM520 398h2v1h-2zM857 398h1v1h-1zM867 398h1v1h-1zM496 396h1v1h-1zM502 396h3v1h-3zM506 396h1v1h-1zM517 396h2v1h-2zM865 396h1v1h-1zM497 395h5v1h-5zM507 395h1v1h-1zM516 395h1v1h-1zM864 395h1v1h-1zM511 392h3v1h-3zM524 402h1v1h-1zM853 402h1v1h-1zM874 402h2v1h-2zM525 403h1v1h-1zM852 403h1v1h-1zM876 403h1v1h-1zM534 420h2v1h-2zM549 420h7v1h-7zM587 420h3v1h-3zM536 421h1v1h-1zM548 421h1v1h-1zM556 421h2v1h-2zM581 421h6v1h-6zM590 421h1v1h-1zM537 422h2v1h-2zM546 422h2v1h-2zM558 422h3v1h-3zM579 422h2v1h-2zM591 422h2v1h-2zM904 422h1v1h-1zM539 423h1v1h-1zM544 423h2v1h-2zM561 423h1v1h-1zM578 423h1v1h-1zM593 423h1v1h-1zM840 423h1v1h-1zM905 423h1v1h-1zM540 424h4v1h-4zM562 424h2v1h-2zM577 424h1v1h-1zM594 424h1v1h-1zM839 424h1v1h-1zM564 425h1v1h-1zM576 425h1v1h-1zM595 425h1v1h-1zM838 425h1v1h-1zM565 426h2v1h-2zM574 426h2v1h-2zM596 426h1v1h-1zM837 426h1v1h-1zM907 426h1v1h-1zM567 427h1v1h-1zM572 427h2v1h-2zM597 427h1v1h-1zM568 428h4v1h-4zM598 428h1v1h-1zM599 429h1v1h-1zM835 429h1v1h-1zM909 429h1v1h-1zM600 430h1v1h-1zM910 430h1v1h-1zM614 462h1v1h-1zM641 462h2v1h-2zM760 462h4v1h-4zM1092 462h1v1h-1zM1106 462h3v1h-3zM1120 462h8v1h-8zM1222 462h2v1h-2zM616 465h1v1h-1zM632 465h1v1h-1zM636 465h2v1h-2zM693 465h5v1h-5zM756 465h1v1h-1zM961 465h1v1h-1zM1090 465h1v1h-1zM1212 465h1v1h-1zM1216 465h2v1h-2zM617 466h1v1h-1zM630 466h2v1h-2zM755 466h1v1h-1zM962 466h1v1h-1zM1213 466h3v1h-3zM618 467h1v1h-1zM628 467h2v1h-2zM704 467h1v1h-1zM754 467h1v1h-1zM620 470h1v1h-1zM622 470h2v1h-2zM749 470h2v1h-2zM965 470h1v1h-1zM621 471h1v1h-1zM707 471h1v1h-1zM748 471h1v1h-1zM624 469h1v1h-1zM751 469h1v1h-1zM964 469h1v1h-1zM625 468h3v1h-3zM705 468h1v1h-1zM752 468h2v1h-2zM633 464h3v1h-3zM638 464h2v1h-2zM692 464h1v1h-1zM698 464h3v1h-3zM702 464h1v1h-1zM757 464h2v1h-2zM1111 464h8v1h-8zM1210 464h2v1h-2zM1218 464h3v1h-3zM640 463h1v1h-1zM701 463h1v1h-1zM759 463h1v1h-1zM1109 463h2v1h-2zM1119 463h1v1h-1zM1209 463h1v1h-1zM1221 463h1v1h-1zM643 461h1v1h-1zM690 461h1v1h-1zM764 461h2v1h-2zM959 461h1v1h-1zM1093 461h2v1h-2zM1104 461h2v1h-2zM1128 461h3v1h-3zM1160 461h2v1h-2zM1224 461h1v1h-1zM644 460h2v1h-2zM687 460h3v1h-3zM766 460h3v1h-3zM1095 460h9v1h-9zM1131 460h3v1h-3zM1157 460h3v1h-3zM1162 460h2v1h-2zM1225 460h1v1h-1zM646 459h1v1h-1zM685 459h2v1h-2zM769 459h1v1h-1zM941 459h9v1h-9zM1134 459h1v1h-1zM1156 459h1v1h-1zM1164 459h1v1h-1zM1207 459h1v1h-1zM1226 459h1v1h-1zM648 456h1v1h-1zM651 456h8v1h-8zM664 456h4v1h-4zM670 456h1v1h-1zM772 456h1v1h-1zM936 456h1v1h-1zM1142 456h3v1h-3zM1152 456h2v1h-2zM1174 456h3v1h-3zM1182 456h3v1h-3zM1230 456h3v1h-3zM649 455h2v1h-2zM659 455h1v1h-1zM663 455h1v1h-1zM773 455h2v1h-2zM935 455h1v1h-1zM1145 455h2v1h-2zM1151 455h1v1h-1zM1177 455h5v1h-5zM1205 455h1v1h-1zM1233 455h1v1h-1zM660 454h3v1h-3zM679 454h1v1h-1zM775 454h3v1h-3zM934 454h1v1h-1zM1147 454h4v1h-4zM1187 454h1v1h-1zM1203 454h2v1h-2zM1234 454h3v1h-3zM1243 454h9v1h-9zM668 457h2v1h-2zM681 457h1v1h-1zM771 457h1v1h-1zM937 457h1v1h-1zM953 457h5v1h-5zM1137 457h5v1h-5zM1154 457h1v1h-1zM1168 457h6v1h-6zM1185 457h1v1h-1zM1229 457h1v1h-1zM672 453h1v1h-1zM778 453h1v1h-1zM933 453h1v1h-1zM1202 453h1v1h-1zM1237 453h6v1h-6zM1252 453h2v1h-2zM673 452h3v1h-3zM779 452h1v1h-1zM930 452h3v1h-3zM1199 452h3v1h-3zM1254 452h2v1h-2zM676 451h2v1h-2zM780 451h1v1h-1zM929 451h1v1h-1zM1189 451h1v1h-1zM1197 451h2v1h-2zM1256 451h1v1h-1zM682 458h3v1h-3zM770 458h1v1h-1zM938 458h3v1h-3zM950 458h3v1h-3zM1135 458h2v1h-2zM1155 458h1v1h-1zM1165 458h3v1h-3zM1227 458h2v1h-2zM709 474h1v1h-1zM967 474h1v1h-1zM710 475h1v1h-1zM711 476h1v1h-1zM712 477h1v1h-1zM713 478h1v1h-1zM969 478h1v1h-1zM717 485h1v1h-1zM1000 485h2v1h-2zM718 486h1v1h-1zM1002 486h1v1h-1zM720 489h1v1h-1zM736 489h1v1h-1zM1005 489h2v1h-2zM721 490h1v1h-1zM1007 490h3v1h-3zM722 491h1v1h-1zM724 494h1v1h-1zM727 494h5v1h-5zM1011 494h1v1h-1zM725 495h2v1h-2zM732 493h2v1h-2zM734 492h1v1h-1zM737 488h1v1h-1zM1004 488h1v1h-1zM738 487h1v1h-1zM1003 487h1v1h-1zM740 484h1v1h-1zM996 484h4v1h-4zM746 473h1v1h-1zM747 472h1v1h-1zM787 436h1v1h-1zM801 436h1v1h-1zM915 436h1v1h-1zM789 433h1v1h-1zM797 433h1v1h-1zM912 433h1v1h-1zM790 432h3v1h-3zM794 432h3v1h-3zM833 432h1v1h-1zM793 431h1v1h-1zM798 434h2v1h-2zM913 434h1v1h-1zM800 435h1v1h-1zM831 435h1v1h-1zM914 435h1v1h-1zM805 443h1v1h-1zM816 443h1v1h-1zM806 444h3v1h-3zM815 444h1v1h-1zM921 444h1v1h-1zM809 445h2v1h-2zM814 445h1v1h-1zM922 445h1v1h-1zM811 446h3v1h-3zM923 446h1v1h-1zM1261 446h1v1h-1zM817 442h3v1h-3zM820 441h3v1h-3zM919 441h1v1h-1zM823 440h4v1h-4zM827 439h1v1h-1zM828 438h2v1h-2zM917 438h1v1h-1zM849 406h1v1h-1zM880 406h4v1h-4zM850 405h1v1h-1zM879 405h1v1h-1zM851 404h1v1h-1zM877 404h2v1h-2zM854 401h1v1h-1zM872 401h2v1h-2zM884 407h6v1h-6zM890 408h3v1h-3zM893 409h1v1h-1zM894 410h1v1h-1zM895 411h1v1h-1zM896 412h1v1h-1zM897 413h1v1h-1zM898 414h1v1h-1zM900 417h1v1h-1zM901 418h1v1h-1zM902 419h1v1h-1zM916 437h1v1h-1zM924 447h1v1h-1zM1260 447h1v1h-1zM925 448h1v1h-1zM1193 448h1v1h-1zM1259 448h1v1h-1zM926 449h1v1h-1zM1192 449h1v1h-1zM1194 449h1v1h-1zM1258 449h1v1h-1zM927 450h2v1h-2zM1190 450h2v1h-2zM1195 450h2v1h-2zM1257 450h1v1h-1zM970 479h1v1h-1zM984 479h6v1h-6zM971 480h1v1h-1zM981 480h3v1h-3zM990 480h2v1h-2zM1083 480h1v1h-1zM972 481h1v1h-1zM980 481h1v1h-1zM992 481h1v1h-1zM973 482h3v1h-3zM978 482h2v1h-2zM993 482h2v1h-2zM976 483h2v1h-2zM995 483h1v1h-1zM1022 518h1v1h-1zM1039 518h1v1h-1zM1023 519h1v1h-1zM1038 519h1v1h-1zM1024 520h1v1h-1zM1037 520h1v1h-1zM1025 521h1v1h-1zM1036 521h1v1h-1zM1026 522h1v1h-1zM1035 522h1v1h-1zM1027 523h1v1h-1zM1034 523h1v1h-1zM1028 524h1v1h-1zM1031 524h3v1h-3zM1029 525h2v1h-2zM1040 517h1v1h-1zM1041 516h3v1h-3zM1044 515h2v1h-2zM1057 515h2v1h-2zM1046 514h3v1h-3zM1054 514h3v1h-3zM1059 514h3v1h-3zM1049 513h5v1h-5zM1062 513h1v1h-1zM1063 512h2v1h-2zM1065 511h2v1h-2zM1067 510h3v1h-3z" fill="#0000cd" shape-rendering="crispEdges"/></g>
<g shape-rendering="crispEdges">
<rect x="5" y="436" width="1583" height="1" fill="#708090"/>
<rect x="5" y="382" width="1583" height="2" fill="#ff0000"/>
<rect x="5" y="426" width="1583" height="2" fill="#ff0000"/>
<rect x="5" y="472" width="1583" height="2" fill="#00ff00"/>
<rect x="5" y="505" width="1584" height="2" fill="#0000ff"/>
<rect x="5" y="539" width="1584" height="2" fill="#0000ff"/>
<path d="M77 101h1v11h-1zM76 101h3v10h-3zM81 107h1v15h-1zM80 110h3v3h-3zM93 101h1v12h-1zM92 101h3v5h-3zM97 101h1v8h-1zM96 105h3v3h-3zM101 105h1v17h-1zM100 107h3v12h-3zM109 106h1v10h-1zM108 111h3v5h-3zM113 113h1v4h-1zM112 114h3v2h-3zM117 109h1v12h-1zM116 115h3v4h-3zM121 112h1v18h-1zM120 117h3v12h-3zM129 101h1v12h-1zM128 101h3v2h-3zM141 101h1v11h-1zM140 101h3v10h-3zM149 102h1v11h-1zM148 103h3v7h-3zM153 101h1v14h-1zM152 108h3v4h-3zM157 109h1v17h-1zM156 110h3v6h-3zM161 114h1v5h-1zM160 116h3v1h-3zM165 112h1v14h-1zM164 115h3v6h-3zM169 115h1v13h-1zM168 118h3v10h-3zM173 126h1v29h-1zM172 127h3v21h-3zM189 125h1v11h-1zM188 130h3v5h-3zM193 131h1v20h-1zM192 133h3v13h-3zM197 139h1v16h-1zM196 145h3v8h-3zM205 140h1v10h-1zM204 144h3v4h-3zM209 145h1v5h-1zM208 146h3v2h-3zM213 147h1v9h-1zM212 148h3v5h-3zM217 153h1v19h-1zM216 153h3v19h-3zM225 157h1v17h-1zM224 158h3v15h-3zM233 160h1v12h-1zM232 161h3v6h-3zM237 166h1v10h-1zM236 167h3v5h-3zM241 171h1v18h-1zM240 172h3v16h-3zM249 181h1v22h-1zM248 182h3v20h-3zM253 200h1v13h-1zM252 202h3v8h-3zM257 208h1v26h-1zM256 212h3v6h-3zM261 216h1v11h-1zM260 217h3v4h-3zM269 208h1v11h-1zM268 211h3v7h-3zM273 215h1v9h-1zM272 218h3v3h-3zM281 201h1v21h-1zM280 208h3v13h-3zM289 212h1v9h-1zM288 212h3v9h-3zM293 218h1v21h-1zM292 220h3v16h-3zM297 236h1v29h-1zM296 237h3v18h-3zM301 252h1v29h-1zM300 256h3v23h-3zM317 241h1v21h-1zM316 245h3v8h-3zM333 218h1v18h-1zM332 226h3v9h-3zM341 225h1v30h-1zM340 231h3v22h-3zM345 248h1v41h-1zM344 253h3v24h-3zM353 270h1v30h-1zM352 274h3v22h-3zM361 272h1v19h-1zM360 277h3v10h-3zM369 280h1v43h-1zM368 283h3v34h-3zM377 264h1v25h-1zM376 278h3v5h-3zM381 279h1v27h-1zM380 282h3v17h-3zM389 295h1v23h-1zM388 300h3v12h-3zM393 308h1v21h-1zM392 312h3v11h-3zM397 319h1v19h-1zM396 325h3v8h-3zM401 334h1v23h-1zM400 335h3v12h-3zM409 319h1v23h-1zM408 329h3v2h-3zM425 287h1v18h-1zM424 290h3v14h-3zM429 301h1v24h-1zM428 302h3v10h-3zM433 305h1v15h-1zM432 314h3v3h-3zM437 310h1v18h-1zM436 316h3v5h-3zM441 258h1v104h-1zM440 321h3v41h-3zM445 332h1v43h-1zM444 364h3v7h-3zM449 355h1v30h-1zM448 368h3v14h-3zM457 356h1v28h-1zM456 364h3v12h-3zM469 356h1v25h-1zM468 363h3v17h-3zM473 372h1v26h-1zM472 379h3v14h-3zM477 390h1v22h-1zM476 391h3v19h-3zM489 388h1v20h-1zM488 392h3v16h-3zM497 376h1v19h-1zM496 390h3v2h-3zM501 386h1v15h-1zM500 391h3v9h-3zM517 385h1v25h-1zM516 386h3v22h-3zM521 397h1v18h-1zM520 406h3v7h-3zM525 405h1v20h-1zM524 410h3v8h-3zM529 406h1v30h-1zM528 419h3v12h-3zM553 416h1v15h-1zM552 417h3v5h-3zM557 411h1v21h-1zM556 421h3v10h-3zM561 421h1v18h-1zM560 429h3v5h-3zM581 410h1v17h-1zM580 416h3v4h-3zM585 418h1v14h-1zM584 420h3v10h-3zM593 420h1v13h-1zM592 421h3v9h-3zM597 424h1v16h-1zM596 428h3v10h-3zM601 430h1v20h-1zM600 435h3v6h-3zM605 441h1v41h-1zM604 442h3v31h-3zM609 469h1v31h-1zM608 470h3v14h-3zM621 456h1v14h-1zM620 460h3v7h-3zM629 456h1v25h-1zM628 457h3v23h-3zM637 456h1v11h-1zM636 463h3v3h-3zM649 442h1v15h-1zM648 444h3v10h-3zM653 453h1v15h-1zM652 454h3v13h-3zM665 443h1v10h-1zM664 446h3v5h-3zM669 447h1v16h-1zM668 450h3v9h-3zM677 431h1v32h-1zM676 444h3v15h-3zM681 457h1v25h-1zM680 459h3v18h-3zM689 457h1v15h-1zM688 458h3v9h-3zM693 462h1v10h-1zM692 465h3v2h-3zM701 449h1v21h-1zM700 458h3v11h-3zM705 467h1v15h-1zM704 468h3v13h-3zM709 480h1v17h-1zM708 481h3v15h-3zM717 485h1v11h-1zM716 487h3v8h-3zM725 495h1v13h-1zM724 496h3v9h-3zM749 458h1v11h-1zM748 464h3v4h-3zM753 464h1v17h-1zM752 468h3v9h-3zM761 435h1v30h-1zM760 451h3v2h-3zM765 455h1v9h-1zM764 456h3v6h-3zM789 399h1v31h-1zM788 408h3v21h-3zM793 423h1v23h-1zM792 430h3v16h-3zM797 438h1v20h-1zM796 444h3v13h-3zM813 434h1v18h-1zM812 439h3v12h-3zM825 430h1v10h-1zM824 433h3v5h-3zM841 409h1v8h-1zM840 409h3v7h-3zM849 385h1v12h-1zM848 391h3v4h-3zM853 388h1v13h-1zM852 394h3v6h-3zM865 386h1v21h-1zM864 397h3v8h-3zM869 398h1v17h-1zM868 404h3v10h-3zM885 397h1v14h-1zM884 402h3v8h-3zM889 403h1v12h-1zM888 409h3v3h-3zM893 410h1v15h-1zM892 411h3v10h-3zM897 411h1v16h-1zM896 420h3v4h-3zM905 418h1v22h-1zM904 426h3v11h-3zM909 434h1v16h-1zM908 435h3v7h-3zM913 440h1v10h-1zM912 443h3v5h-3zM921 442h1v9h-1zM920 444h3v5h-3zM925 448h1v13h-1zM924 450h3v11h-3zM933 449h1v14h-1zM932 454h3v4h-3zM937 457h1v11h-1zM936 458h3v9h-3zM957 449h1v17h-1zM956 450h3v16h-3zM961 463h1v35h-1zM960 464h3v34h-3zM977 468h1v10h-1zM976 470h3v5h-3zM981 473h1v14h-1zM980 478h3v4h-3zM989 478h1v19h-1zM988 479h3v14h-3zM997 479h1v9h-1zM996 481h3v6h-3zM1005 480h1v23h-1zM1004 485h3v17h-3zM1013 501h1v23h-1zM1012 502h3v20h-3zM1017 511h1v19h-1zM1016 521h3v8h-3zM1021 520h1v16h-1zM1020 526h3v9h-3zM1041 501h1v16h-1zM1040 508h3v8h-3zM1045 508h1v10h-1zM1044 515h3v2h-3zM1053 507h1v12h-1zM1052 507h3v11h-3zM1057 511h1v12h-1zM1056 516h3v2h-3zM1093 444h1v16h-1zM1092 453h3v3h-3zM1097 450h1v13h-1zM1096 457h3v5h-3zM1101 459h1v14h-1zM1100 459h3v9h-3zM1125 457h1v12h-1zM1124 462h3v6h-3zM1133 452h1v13h-1zM1132 457h3v2h-3zM1141 441h1v16h-1zM1140 446h3v10h-3zM1145 452h1v7h-1zM1144 455h3v4h-3zM1153 451h1v24h-1zM1152 456h3v14h-3zM1169 444h1v11h-1zM1168 445h3v6h-3zM1173 449h1v19h-1zM1172 449h3v18h-3zM1181 450h1v12h-1zM1180 456h3v3h-3zM1193 423h1v30h-1zM1192 423h3v29h-3zM1197 445h1v26h-1zM1196 452h3v19h-3zM1213 463h1v9h-1zM1212 464h3v3h-3zM1233 446h1v14h-1zM1232 451h3v7h-3zM1245 453h1v6h-1zM1244 455h3v2h-3zM1253 445h1v9h-1zM1252 447h3v5h-3zM69 101h1v2h-1z" fill="#00ff00"/>
<path d="M73 101h1v11h-1zM85 101h1v12h-1zM84 101h3v11h-3zM89 101h1v4h-1zM88 101h3v4h-3zM105 106h1v15h-1zM104 111h3v8h-3zM125 101h1v32h-1zM124 101h3v28h-3zM133 101h1v5h-1zM132 101h3v2h-3zM145 101h1v17h-1zM144 102h3v9h-3zM177 139h1v15h-1zM176 144h3v4h-3zM181 123h1v24h-1zM180 131h3v14h-3zM185 128h1v6h-1zM184 130h3v2h-3zM201 138h1v20h-1zM200 144h3v9h-3zM221 158h1v19h-1zM220 158h3v14h-3zM229 158h1v22h-1zM228 160h3v13h-3zM245 179h1v18h-1zM244 183h3v5h-3zM265 208h1v18h-1zM264 210h3v12h-3zM277 204h1v20h-1zM276 206h3v15h-3zM285 211h1v15h-1zM284 211h3v11h-3zM305 271h1v9h-1zM304 272h3v7h-3zM309 255h1v24h-1zM308 255h3v19h-3zM313 236h1v38h-1zM312 246h3v21h-3zM321 222h1v40h-1zM320 225h3v28h-3zM325 211h1v21h-1zM324 224h3v3h-3zM329 212h1v24h-1zM328 225h3v2h-3zM337 221h1v14h-1zM336 230h3v4h-3zM349 255h1v23h-1zM348 273h3v4h-3zM357 275h1v23h-1zM356 276h3v20h-3zM365 276h1v16h-1zM364 283h3v4h-3zM373 270h1v33h-1zM372 279h3v15h-3zM385 286h1v22h-1zM384 300h3v6h-3zM405 323h1v32h-1zM404 327h3v19h-3zM413 296h1v45h-1zM412 307h3v26h-3zM417 292h1v27h-1zM416 298h3v11h-3zM421 283h1v24h-1zM420 289h3v10h-3zM453 342h1v68h-1zM452 364h3v23h-3zM461 355h1v32h-1zM460 364h3v13h-3zM465 350h1v24h-1zM464 363h3v4h-3zM481 396h1v25h-1zM480 399h3v11h-3zM485 380h1v26h-1zM484 390h3v16h-3zM493 383h1v29h-1zM492 391h3v16h-3zM505 392h1v13h-1zM504 395h3v7h-3zM509 388h1v11h-1zM508 392h3v6h-3zM513 381h1v18h-1zM512 385h3v14h-3zM533 417h1v19h-1zM532 426h3v8h-3zM537 422h1v15h-1zM536 426h3v5h-3zM541 412h1v32h-1zM540 422h3v8h-3zM545 410h1v16h-1zM544 415h3v6h-3zM549 413h1v13h-1zM548 415h3v5h-3zM565 429h1v13h-1zM564 430h3v5h-3zM569 420h1v14h-1zM568 425h3v5h-3zM573 406h1v26h-1zM572 418h3v14h-3zM577 409h1v13h-1zM576 415h3v4h-3zM589 417h1v16h-1zM588 420h3v12h-3zM613 468h1v24h-1zM612 475h3v10h-3zM617 456h1v31h-1zM616 460h3v15h-3zM625 447h1v25h-1zM624 455h3v12h-3zM633 461h1v21h-1zM632 462h3v19h-3zM641 450h1v17h-1zM640 451h3v15h-3zM645 436h1v22h-1zM644 444h3v13h-3zM657 460h1v12h-1zM656 465h3v2h-3zM661 442h1v24h-1zM660 442h3v23h-3zM673 441h1v22h-1zM672 443h3v17h-3zM685 455h1v25h-1zM684 457h3v23h-3zM697 455h1v16h-1zM696 459h3v11h-3zM713 485h1v15h-1zM712 488h3v8h-3zM721 483h1v13h-1zM720 492h3v3h-3zM729 488h1v20h-1zM728 491h3v15h-3zM733 474h1v18h-1zM732 484h3v8h-3zM737 460h1v27h-1zM736 468h3v17h-3zM741 463h1v17h-1zM740 467h3v2h-3zM745 457h1v22h-1zM744 464h3v13h-3zM757 443h1v35h-1zM756 449h3v28h-3zM769 452h1v12h-1zM768 457h3v6h-3zM773 454h1v15h-1zM772 456h3v2h-3zM777 446h1v11h-1zM776 447h3v9h-3zM781 423h1v25h-1zM780 430h3v18h-3zM785 405h1v33h-1zM784 407h3v25h-3zM801 432h1v26h-1zM800 443h3v13h-3zM805 430h1v16h-1zM804 443h3v3h-3zM809 437h1v9h-1zM808 440h3v4h-3zM817 431h1v21h-1zM816 438h3v14h-3zM821 428h1v12h-1zM820 436h3v2h-3zM829 427h1v11h-1zM828 428h3v10h-3zM833 421h1v10h-1zM832 422h3v7h-3zM837 405h1v19h-1zM836 409h3v14h-3zM845 385h1v32h-1zM844 391h3v25h-3zM857 383h1v20h-1zM856 391h3v9h-3zM861 388h1v10h-1zM860 391h3v3h-3zM873 407h1v9h-1zM872 408h3v7h-3zM877 399h1v13h-1zM876 404h3v7h-3zM881 394h1v15h-1zM880 402h3v4h-3zM901 418h1v9h-1zM900 423h3v4h-3zM917 441h1v15h-1zM916 445h3v4h-3zM929 452h1v10h-1zM928 455h3v6h-3zM941 458h1v10h-1zM940 459h3v7h-3zM945 452h1v11h-1zM944 460h3v2h-3zM949 447h1v16h-1zM948 452h3v10h-3zM953 446h1v11h-1zM952 449h3v3h-3zM965 485h1v21h-1zM964 488h3v10h-3zM969 486h1v12h-1zM968 489h3v4h-3zM973 468h1v23h-1zM972 469h3v22h-3zM985 474h1v10h-1zM984 479h3v5h-3zM993 480h1v16h-1zM992 481h3v15h-3zM1001 480h1v10h-1zM1000 485h3v3h-3zM1009 497h1v17h-1zM1008 499h3v4h-3zM1025 524h1v16h-1zM1024 525h3v9h-3zM1029 517h1v18h-1zM1028 518h3v9h-3zM1033 514h1v10h-1zM1032 517h3v4h-3zM1037 507h1v15h-1zM1036 507h3v14h-3zM1049 506h1v14h-1zM1048 507h3v12h-3zM1061 508h1v14h-1zM1060 511h3v8h-3zM1065 494h1v20h-1zM1064 504h3v10h-3zM1069 501h1v11h-1zM1068 503h3v3h-3zM1073 480h1v35h-1zM1072 481h3v26h-3zM1077 464h1v20h-1zM1076 470h3v13h-3zM1081 465h1v15h-1zM1080 466h3v8h-3zM1085 454h1v19h-1zM1084 464h3v9h-3zM1089 450h1v16h-1zM1088 453h3v12h-3zM1105 462h1v10h-1zM1104 467h3v4h-3zM1109 460h1v10h-1zM1108 463h3v6h-3zM1113 461h1v9h-1zM1112 463h3v3h-3zM1117 458h1v9h-1zM1116 459h3v4h-3zM1121 447h1v18h-1zM1120 459h3v2h-3zM1129 450h1v19h-1zM1128 456h3v12h-3zM1137 441h1v18h-1zM1136 446h3v13h-3zM1149 453h1v11h-1zM1148 454h3v5h-3zM1157 460h1v10h-1zM1156 467h3v2h-3zM1161 452h1v17h-1zM1160 458h3v10h-3zM1165 442h1v20h-1zM1164 445h3v16h-3zM1177 456h1v12h-1zM1176 458h3v9h-3zM1185 445h1v16h-1zM1184 452h3v9h-3zM1189 422h1v35h-1zM1188 422h3v31h-3zM1201 459h1v16h-1zM1200 466h3v4h-3zM1205 459h1v13h-1zM1204 465h3v7h-3zM1209 461h1v7h-1zM1208 465h3v1h-3zM1217 464h1v8h-1zM1216 465h3v2h-3zM1221 452h1v18h-1zM1220 456h3v12h-3zM1225 449h1v9h-1zM1224 449h3v8h-3zM1229 448h1v8h-1zM1228 449h3v3h-3zM1237 453h1v7h-1zM1236 455h3v4h-3zM1241 451h1v7h-1zM1240 456h3v1h-3zM1249 443h1v16h-1zM1248 447h3v12h-3zM1257 438h1v16h-1zM1256 440h3v12h-3zM1261 434h1v10h-1zM1260 436h3v6h-3z" fill="#ff0000"/>
<g fill="#ff0000">
<rect x="4" y="380" width="6" height="6"/><rect x="4" y="424" width="6" height="6"/>
<rect x="1581" y="380" width="6" height="6"/><rect x="1581" y="424" width="6" height="6"/>
<rect x="1589" y="377" width="38" height="11"/><rect x="1589" y="421" width="38" height="11"/>
</g>
<g fill="#00ff00"><rect x="4" y="470" width="6" height="6"/><rect x="1581" y="470" width="6" height="6"/><rect x="1589" y="467" width="38" height="11"/></g>
<g fill="#0000ff"><rect x="1589" y="500" width="38" height="11"/><rect x="1589" y="534" width="38" height="11"/></g>
<g fill="#fff"><rect x="6" y="382" width="2" height="2"/><rect x="6" y="426" width="2" height="2"/><rect x="6" y="472" width="2" height="2"/>
<rect x="1583" y="382" width="2" height="2"/><rect x="1583" y="426" width="2" height="2"/><rect x="1583" y="472" width="2" height="2"/></g>
<path d="M5 599.5H1588M5 656.5H1588" stroke="#c0c0c0" stroke-width="1" stroke-dasharray="3 3" fill="none"/>
<path d="M8 724h3v9h-3zM12 724h3v8h-3zM16 724h3v8h-3zM20 724h3v8h-3zM24 724h3v8h-3zM28 724h3v8h-3zM32 724h3v8h-3zM36 724h3v7h-3zM40 724h3v7h-3zM44 724h3v7h-3zM48 724h3v7h-3zM52 724h3v7h-3zM56 724h3v7h-3zM60 724h3v6h-3zM64 724h3v7h-3zM68 724h3v9h-3zM72 724h3v11h-3zM76 724h3v14h-3zM80 724h3v16h-3zM84 724h3v17h-3zM88 724h3v17h-3zM92 724h3v18h-3zM96 724h3v18h-3zM100 724h3v19h-3zM104 724h3v19h-3zM108 724h3v18h-3zM112 724h3v18h-3zM116 724h3v18h-3zM120 724h3v18h-3zM124 724h3v17h-3zM128 724h3v15h-3zM132 724h3v14h-3zM136 724h3v13h-3zM140 724h3v12h-3zM144 724h3v12h-3zM148 724h3v11h-3zM152 724h3v11h-3zM156 724h3v10h-3zM160 724h3v10h-3zM164 724h3v11h-3zM168 724h3v13h-3zM172 724h3v14h-3zM176 724h3v14h-3zM180 724h3v14h-3zM184 724h3v14h-3zM188 724h3v13h-3zM192 724h3v14h-3zM196 724h3v15h-3zM200 724h3v15h-3zM204 724h3v15h-3zM208 724h3v15h-3zM212 724h3v17h-3zM216 724h3v17h-3zM220 724h3v18h-3zM224 724h3v18h-3zM228 724h3v17h-3zM232 724h3v17h-3zM236 724h3v19h-3zM240 724h3v20h-3zM244 724h3v20h-3zM248 724h3v21h-3zM252 724h3v23h-3zM256 724h3v25h-3zM260 724h3v27h-3zM264 724h3v27h-3zM268 724h3v28h-3zM272 724h3v27h-3zM276 724h3v26h-3zM280 724h3v25h-3zM284 724h3v25h-3zM288 724h3v26h-3zM292 724h3v27h-3zM296 724h3v29h-3zM300 724h3v30h-3zM304 724h3v32h-3zM308 724h3v31h-3zM312 724h3v30h-3zM316 724h3v27h-3zM320 724h3v25h-3zM324 724h3v22h-3zM328 724h3v20h-3zM332 724h3v19h-3zM336 724h3v18h-3zM340 724h3v17h-3zM344 724h3v19h-3zM348 724h3v21h-3zM352 724h3v23h-3zM356 724h3v24h-3zM360 724h3v24h-3zM364 724h3v26h-3zM368 724h3v27h-3zM372 724h3v25h-3zM376 724h3v24h-3zM380 724h3v23h-3zM384 724h3v24h-3zM388 724h3v25h-3zM392 724h3v27h-3zM396 724h3v29h-3zM400 724h3v30h-3zM404 724h3v30h-3zM408 724h3v30h-3zM412 724h3v27h-3zM416 724h3v23h-3zM420 724h3v21h-3zM424 724h3v20h-3zM428 724h3v19h-3zM432 724h3v18h-3zM436 724h3v18h-3zM440 724h3v22h-3zM444 724h3v24h-3zM448 724h3v26h-3zM452 724h3v27h-3zM456 724h3v28h-3zM460 724h3v28h-3zM464 724h3v28h-3zM468 724h3v28h-3zM472 724h3v30h-3zM476 724h3v32h-3zM480 724h3v32h-3zM484 724h3v32h-3zM488 724h3v32h-3zM492 724h3v31h-3zM496 724h3v29h-3zM500 724h3v28h-3zM504 724h3v27h-3zM508 724h3v25h-3zM512 724h3v25h-3zM516 724h3v24h-3zM520 724h3v24h-3zM524 724h3v23h-3zM528 724h3v23h-3zM532 724h3v23h-3zM536 724h3v23h-3zM540 724h3v23h-3zM544 724h3v23h-3zM548 724h3v23h-3zM552 724h3v23h-3zM556 724h3v22h-3zM560 724h3v22h-3zM564 724h3v21h-3zM568 724h3v20h-3zM572 724h3v18h-3zM576 724h3v16h-3zM580 724h3v15h-3zM584 724h3v14h-3zM588 724h3v14h-3zM592 724h3v13h-3zM596 724h3v13h-3zM600 724h3v14h-3zM604 724h3v15h-3zM608 724h3v20h-3zM612 724h3v21h-3zM616 724h3v22h-3zM620 724h3v21h-3zM624 724h3v21h-3zM628 724h3v22h-3zM632 724h3v20h-3zM636 724h3v19h-3zM640 724h3v17h-3zM644 724h3v15h-3zM648 724h3v14h-3zM652 724h3v13h-3zM656 724h3v13h-3zM660 724h3v12h-3zM664 724h3v10h-3zM668 724h3v9h-3zM672 724h3v8h-3zM676 724h3v8h-3zM680 724h3v7h-3zM684 724h3v8h-3zM688 724h3v8h-3zM692 724h3v7h-3zM696 724h3v7h-3zM700 724h3v8h-3zM704 724h3v9h-3zM708 724h3v12h-3zM712 724h3v13h-3zM716 724h3v14h-3zM720 724h3v15h-3zM724 724h3v15h-3zM728 724h3v15h-3zM732 724h3v14h-3zM736 724h3v12h-3zM740 724h3v10h-3zM744 724h3v8h-3zM748 724h3v7h-3zM752 724h3v5h-3zM756 724h3v4h-3zM760 724h3v2h-3zM764 724h3v1h-3zM768 724h3v1h-3zM772 723h3v1h-3zM776 721h3v3h-3zM780 718h3v6h-3zM784 715h3v9h-3zM788 713h3v11h-3zM792 715h3v9h-3zM796 716h3v8h-3zM800 717h3v7h-3zM804 717h3v7h-3zM808 717h3v7h-3zM812 717h3v7h-3zM816 717h3v7h-3zM820 717h3v7h-3zM824 717h3v7h-3zM828 717h3v7h-3zM832 715h3v9h-3zM836 713h3v11h-3zM840 711h3v13h-3zM844 710h3v14h-3zM848 708h3v16h-3zM852 708h3v16h-3zM856 707h3v17h-3zM860 706h3v18h-3zM864 707h3v17h-3zM868 709h3v15h-3zM872 710h3v14h-3zM876 710h3v14h-3zM880 711h3v13h-3zM884 712h3v12h-3zM888 714h3v10h-3zM892 715h3v9h-3zM896 717h3v7h-3zM900 719h3v5h-3zM904 722h3v2h-3zM908 724h3v1h-3zM912 724h3v3h-3zM916 724h3v4h-3zM920 724h3v6h-3zM924 724h3v7h-3zM928 724h3v9h-3zM932 724h3v10h-3zM936 724h3v11h-3zM940 724h3v12h-3zM944 724h3v12h-3zM948 724h3v11h-3zM952 724h3v12h-3zM956 724h3v13h-3zM960 724h3v15h-3zM964 724h3v17h-3zM968 724h3v18h-3zM972 724h3v16h-3zM976 724h3v15h-3zM980 724h3v15h-3zM984 724h3v15h-3zM988 724h3v15h-3zM992 724h3v15h-3zM996 724h3v15h-3zM1000 724h3v16h-3zM1004 724h3v16h-3zM1008 724h3v16h-3zM1012 724h3v19h-3zM1016 724h3v21h-3zM1020 724h3v22h-3zM1024 724h3v23h-3zM1028 724h3v23h-3zM1032 724h3v21h-3zM1036 724h3v20h-3zM1040 724h3v19h-3zM1044 724h3v19h-3zM1048 724h3v18h-3zM1052 724h3v16h-3zM1056 724h3v15h-3zM1060 724h3v14h-3zM1064 724h3v12h-3zM1068 724h3v10h-3zM1072 724h3v7h-3zM1076 724h3v3h-3zM1080 724h3v1h-3zM1084 721h3v3h-3zM1088 719h3v5h-3zM1092 716h3v8h-3zM1096 715h3v9h-3zM1100 715h3v9h-3zM1104 715h3v9h-3zM1108 715h3v9h-3zM1112 715h3v9h-3zM1116 715h3v9h-3zM1120 714h3v10h-3zM1124 714h3v10h-3zM1128 714h3v10h-3zM1132 714h3v10h-3zM1136 715h3v9h-3zM1140 715h3v9h-3zM1144 715h3v9h-3zM1148 716h3v8h-3zM1152 717h3v7h-3zM1156 718h3v6h-3zM1160 718h3v6h-3zM1164 716h3v8h-3zM1168 716h3v8h-3zM1172 717h3v7h-3zM1176 718h3v6h-3zM1180 718h3v6h-3zM1184 717h3v7h-3zM1188 715h3v9h-3zM1192 716h3v8h-3zM1196 718h3v6h-3zM1200 720h3v4h-3zM1204 722h3v2h-3zM1208 723h3v1h-3zM1212 723h3v1h-3zM1216 723h3v1h-3zM1220 723h3v1h-3zM1224 723h3v1h-3zM1228 723h3v1h-3zM1232 723h3v1h-3zM1236 723h3v1h-3zM1240 723h3v1h-3zM1244 723h3v1h-3zM1248 723h3v1h-3zM1252 722h3v2h-3zM1256 720h3v4h-3zM1260 719h3v5h-3z" fill="#c0c0c0"/>
</g>
<g font-family="Liberation Sans, sans-serif" font-size="10.2" fill="#fff">
<text x="1592.7" y="386" textLength="33.3" lengthAdjust="spacingAndGlyphs">6.58529</text>
<text x="1592.7" y="430" textLength="33.3" lengthAdjust="spacingAndGlyphs">6.52027</text>
<text x="1592.7" y="476" textLength="33.3" lengthAdjust="spacingAndGlyphs">6.45000</text>
<text x="1592.7" y="509" textLength="33.3" lengthAdjust="spacingAndGlyphs">6.40076</text>
<text x="1592.7" y="543" textLength="33.3" lengthAdjust="spacingAndGlyphs">6.35008</text>
</g>
<path d="M17 635h1v2h-1zM18 637h1v2h-1zM19 639h1v2h-1zM20 641h1v2h-1zM24 640h1v2h-1zM26 636h1v3h-1zM28 632h1v3h-1zM42 628h1v2h-1zM43 630h1v2h-1zM65 638h1v3h-1zM66 641h1v5h-1zM67 646h1v4h-1zM68 650h1v5h-1zM69 655h1v3h-1zM70 655h1v2h-1zM73 654h1v2h-1zM76 658h1v2h-1zM80 660h1v2h-1zM82 656h1v3h-1zM84 652h1v3h-1zM98 654h1v2h-1zM100 657h1v2h-1zM102 656h1v3h-1zM104 652h1v3h-1zM118 655h1v2h-1zM120 658h1v2h-1zM121 657h1v4h-1zM122 650h1v7h-1zM123 643h1v7h-1zM124 636h1v7h-1zM125 632h1v4h-1zM136 632h1v2h-1zM138 635h1v2h-1zM140 638h1v2h-1zM142 638h1v2h-1zM143 636h1v2h-1zM144 634h1v2h-1zM168 647h1v2h-1zM169 649h1v2h-1zM170 651h1v3h-1zM171 654h1v2h-1zM172 656h1v2h-1zM173 658h1v2h-1zM177 654h1v2h-1zM178 649h1v5h-1zM179 646h1v3h-1zM180 643h1v3h-1zM189 643h1v2h-1zM190 645h1v2h-1zM192 648h1v2h-1zM198 651h1v2h-1zM199 649h1v2h-1zM200 647h1v2h-1zM213 651h1v2h-1zM214 653h1v2h-1zM215 655h1v2h-1zM216 657h1v2h-1zM217 659h1v2h-1zM218 657h1v2h-1zM219 654h1v3h-1zM220 652h1v2h-1zM221 650h1v2h-1zM225 653h1v2h-1zM226 651h1v2h-1zM227 648h1v3h-1zM228 646h1v2h-1zM229 644h1v2h-1zM237 650h1v2h-1zM238 652h1v2h-1zM240 655h1v2h-1zM243 654h1v2h-1zM246 653h1v2h-1zM247 655h1v2h-1zM248 657h1v2h-1zM262 662h1v3h-1zM264 658h1v3h-1zM273 659h1v2h-1zM274 656h1v3h-1zM275 652h1v4h-1zM276 649h1v3h-1zM277 647h1v2h-1zM278 648h1v2h-1zM279 650h1v2h-1zM282 649h1v2h-1zM291 652h1v2h-1zM292 654h1v2h-1zM294 657h1v2h-1zM296 660h1v2h-1zM298 663h1v2h-1zM300 666h1v2h-1zM303 665h1v2h-1zM305 662h1v2h-1zM306 659h1v3h-1zM307 656h1v3h-1zM308 653h1v3h-1zM309 651h1v2h-1zM311 648h1v2h-1zM317 646h1v2h-1zM318 642h1v4h-1zM319 638h1v4h-1zM320 634h1v4h-1zM321 632h1v2h-1zM337 636h1v2h-1zM338 638h1v2h-1zM340 641h1v2h-1zM341 643h1v2h-1zM342 645h1v2h-1zM343 647h1v2h-1zM344 649h1v2h-1zM345 651h1v2h-1zM350 651h1v2h-1zM351 653h1v2h-1zM352 655h1v2h-1zM353 656h1v2h-1zM354 653h1v3h-1zM355 651h1v2h-1zM356 648h1v3h-1zM357 646h1v2h-1zM364 647h1v2h-1zM366 650h1v3h-1zM368 654h1v3h-1zM369 655h1v3h-1zM370 651h1v4h-1zM371 646h1v5h-1zM372 642h1v4h-1zM373 639h1v3h-1zM379 642h1v2h-1zM400 656h1v2h-1zM401 657h1v2h-1zM402 655h1v2h-1zM403 653h1v2h-1zM404 650h1v3h-1zM405 648h1v2h-1zM406 646h1v2h-1zM409 647h1v2h-1zM410 644h1v3h-1zM411 642h1v2h-1zM412 639h1v3h-1zM413 637h1v2h-1zM415 634h1v2h-1zM437 640h1v2h-1zM438 642h1v3h-1zM439 645h1v3h-1zM440 648h1v3h-1zM441 651h1v2h-1zM449 657h1v2h-1zM450 654h1v3h-1zM451 651h1v3h-1zM452 649h1v2h-1zM458 650h1v2h-1zM460 647h1v2h-1zM471 652h1v2h-1zM478 657h1v2h-1zM481 653h1v2h-1zM484 649h1v2h-1zM489 651h1v2h-1zM490 649h1v2h-1zM491 646h1v3h-1zM492 644h1v2h-1zM493 642h1v2h-1zM514 639h1v2h-1zM515 641h1v2h-1zM516 643h1v2h-1zM538 650h1v2h-1zM554 646h1v2h-1zM569 644h1v2h-1zM572 640h1v2h-1zM582 638h1v3h-1zM584 642h1v3h-1zM585 644h1v2h-1zM586 642h1v2h-1zM587 640h1v2h-1zM588 638h1v2h-1zM589 636h1v2h-1zM591 638h1v2h-1zM594 642h1v2h-1zM601 647h1v3h-1zM602 650h1v4h-1zM603 654h1v4h-1zM604 658h1v3h-1zM610 662h1v3h-1zM612 658h1v3h-1zM613 656h1v2h-1zM614 653h1v3h-1zM615 651h1v2h-1zM616 648h1v3h-1zM617 646h1v2h-1zM622 646h1v2h-1zM623 644h1v2h-1zM624 642h1v2h-1zM625 641h1v2h-1zM626 643h1v2h-1zM627 645h1v3h-1zM628 648h1v2h-1zM629 650h1v2h-1zM630 647h1v3h-1zM631 645h1v2h-1zM632 642h1v3h-1zM633 640h1v2h-1zM638 638h1v3h-1zM640 634h1v3h-1zM647 631h1v2h-1zM650 635h1v2h-1zM652 638h1v2h-1zM657 638h1v2h-1zM658 635h1v3h-1zM659 631h1v4h-1zM660 628h1v3h-1zM661 626h1v2h-1zM666 630h1v2h-1zM668 633h1v2h-1zM669 634h1v2h-1zM670 632h1v2h-1zM671 630h1v2h-1zM672 628h1v2h-1zM673 626h1v2h-1zM674 627h1v2h-1zM675 629h1v2h-1zM676 631h1v2h-1zM678 634h1v3h-1zM680 638h1v3h-1zM681 640h1v2h-1zM682 638h1v2h-1zM683 635h1v3h-1zM684 633h1v2h-1zM685 631h1v2h-1zM687 633h1v2h-1zM695 633h1v2h-1zM706 640h1v2h-1zM708 643h1v2h-1zM726 645h1v2h-1zM727 643h1v2h-1zM728 641h1v2h-1zM731 637h1v2h-1zM733 634h1v2h-1zM734 632h1v2h-1zM735 630h1v2h-1zM736 628h1v2h-1zM737 626h1v2h-1zM751 628h1v2h-1zM753 630h1v2h-1zM754 626h1v4h-1zM755 623h1v3h-1zM756 619h1v4h-1zM757 617h1v2h-1zM762 620h1v2h-1zM764 623h1v2h-1zM778 615h1v2h-1zM779 613h1v2h-1zM780 611h1v2h-1zM781 609h1v2h-1zM782 606h1v3h-1zM784 602h1v3h-1zM786 599h1v3h-1zM787 602h1v5h-1zM788 607h1v6h-1zM789 613h1v3h-1zM790 616h1v2h-1zM791 618h1v2h-1zM792 620h1v2h-1zM794 623h1v2h-1zM796 626h1v2h-1zM798 626h1v2h-1zM811 623h1v2h-1zM814 624h1v2h-1zM816 621h1v2h-1zM826 618h1v2h-1zM828 615h1v2h-1zM835 608h1v2h-1zM839 608h1v2h-1zM841 610h1v2h-1zM842 608h1v2h-1zM843 606h1v2h-1zM844 604h1v2h-1zM845 602h1v2h-1zM851 605h1v2h-1zM861 604h1v2h-1zM862 606h1v2h-1zM863 608h1v2h-1zM864 610h1v2h-1zM865 612h1v2h-1zM866 614h1v2h-1zM867 616h1v2h-1zM868 618h1v2h-1zM883 617h1v2h-1zM890 623h1v2h-1zM892 626h1v2h-1zM901 630h1v2h-1zM902 632h1v2h-1zM903 634h1v2h-1zM904 636h1v2h-1zM905 638h1v2h-1zM922 647h1v2h-1zM923 649h1v2h-1zM924 651h1v2h-1zM926 651h1v2h-1zM928 648h1v2h-1zM934 649h1v2h-1zM936 652h1v2h-1zM938 651h1v3h-1zM940 647h1v3h-1zM946 644h1v3h-1zM948 640h1v3h-1zM953 636h1v2h-1zM954 638h1v3h-1zM955 641h1v3h-1zM956 644h1v3h-1zM957 647h1v3h-1zM958 650h1v4h-1zM959 654h1v3h-1zM960 657h1v3h-1zM961 660h1v2h-1zM967 654h1v2h-1zM969 651h1v2h-1zM970 647h1v4h-1zM971 643h1v4h-1zM972 639h1v4h-1zM973 637h1v2h-1zM986 643h1v2h-1zM988 646h1v2h-1zM990 645h1v3h-1zM992 641h1v3h-1zM1002 642h1v3h-1zM1004 646h1v3h-1zM1010 649h1v3h-1zM1012 653h1v3h-1zM1022 659h1v2h-1zM1023 657h1v2h-1zM1024 655h1v2h-1zM1026 652h1v2h-1zM1027 650h1v2h-1zM1028 648h1v2h-1zM1034 644h1v2h-1zM1035 642h1v2h-1zM1036 640h1v2h-1zM1046 641h1v3h-1zM1048 637h1v3h-1zM1050 637h1v2h-1zM1052 640h1v2h-1zM1059 639h1v2h-1zM1062 635h1v2h-1zM1064 632h1v2h-1zM1069 630h1v2h-1zM1070 626h1v4h-1zM1071 623h1v3h-1zM1072 619h1v4h-1zM1073 617h1v2h-1zM1074 615h1v2h-1zM1075 613h1v2h-1zM1076 611h1v2h-1zM1095 605h1v2h-1zM1098 609h1v2h-1zM1100 612h1v2h-1zM1122 611h1v3h-1zM1124 615h1v3h-1zM1126 615h1v3h-1zM1128 611h1v3h-1zM1134 609h1v2h-1zM1135 607h1v2h-1zM1136 605h1v2h-1zM1137 604h1v2h-1zM1138 606h1v2h-1zM1139 608h1v2h-1zM1140 610h1v2h-1zM1141 612h1v2h-1zM1150 616h1v3h-1zM1151 619h1v3h-1zM1152 622h1v5h-1zM1153 627h1v2h-1zM1157 625h1v2h-1zM1158 623h1v2h-1zM1159 621h1v2h-1zM1160 619h1v2h-1zM1161 617h1v2h-1zM1162 615h1v2h-1zM1163 613h1v2h-1zM1164 611h1v2h-1zM1169 614h1v2h-1zM1170 616h1v4h-1zM1171 620h1v3h-1zM1172 623h1v4h-1zM1173 627h1v2h-1zM1174 626h1v2h-1zM1176 623h1v2h-1zM1185 617h1v2h-1zM1186 612h1v5h-1zM1187 609h1v3h-1zM1188 604h1v5h-1zM1189 602h1v3h-1zM1190 605h1v5h-1zM1191 610h1v4h-1zM1192 614h1v5h-1zM1193 619h1v4h-1zM1194 623h1v3h-1zM1195 626h1v3h-1zM1196 629h1v3h-1zM1197 632h1v2h-1zM1218 628h1v3h-1zM1220 624h1v3h-1zM1230 620h1v2h-1zM1231 622h1v2h-1zM1232 624h1v2h-1zM1246 622h1v3h-1zM1248 618h1v3h-1zM1254 618h1v3h-1zM1256 614h1v3h-1zM5 635h1v1h-1zM27 635h1v1h-1zM48 635h2v1h-2zM148 635h1v1h-1zM331 635h1v1h-1zM336 635h1v1h-1zM428 635h1v1h-1zM577 635h1v1h-1zM688 635h1v1h-1zM694 635h1v1h-1zM701 635h1v1h-1zM6 634h11v1h-11zM46 634h2v1h-2zM128 634h1v1h-1zM137 634h1v1h-1zM146 634h2v1h-2zM329 634h2v1h-2zM426 634h2v1h-2zM649 634h1v1h-1zM700 634h1v1h-1zM1063 634h1v1h-1zM21 643h1v1h-1zM162 643h2v1h-2zM496 643h2v1h-2zM506 643h1v1h-1zM548 643h2v1h-2zM570 643h1v1h-1zM711 643h1v1h-1zM717 643h5v1h-5zM909 643h1v1h-1zM947 643h1v1h-1zM981 643h2v1h-2zM997 643h1v1h-1zM1041 643h2v1h-2zM22 642h2v1h-2zM160 642h2v1h-2zM181 642h3v1h-3zM186 642h3v1h-3zM494 642h2v1h-2zM507 642h2v1h-2zM571 642h1v1h-1zM707 642h1v1h-1zM712 642h1v1h-1zM714 642h3v1h-3zM908 642h1v1h-1zM980 642h1v1h-1zM983 642h3v1h-3zM995 642h2v1h-2zM998 642h3v1h-3zM1040 642h1v1h-1zM1053 642h5v1h-5zM25 639h1v1h-1zM154 639h2v1h-2zM374 639h1v1h-1zM435 639h1v1h-1zM512 639h1v1h-1zM573 639h1v1h-1zM656 639h1v1h-1zM705 639h1v1h-1zM730 639h1v1h-1zM949 639h1v1h-1zM977 639h1v1h-1zM1037 639h1v1h-1zM1051 639h1v1h-1zM29 631h5v1h-5zM132 631h4v1h-4zM418 631h1v1h-1zM423 631h1v1h-1zM643 631h1v1h-1zM697 631h1v1h-1zM897 631h2v1h-2zM1065 631h4v1h-4zM1200 631h1v1h-1zM1212 631h6v1h-6zM34 630h1v1h-1zM419 630h2v1h-2zM422 630h1v1h-1zM644 630h1v1h-1zM646 630h1v1h-1zM752 630h1v1h-1zM895 630h2v1h-2zM899 630h2v1h-2zM1201 630h11v1h-11zM35 629h1v1h-1zM421 629h1v1h-1zM645 629h1v1h-1zM665 629h1v1h-1zM894 629h1v1h-1zM36 628h1v1h-1zM663 628h2v1h-2zM797 628h1v1h-1zM893 628h1v1h-1zM1154 628h1v1h-1zM37 627h5v1h-5zM662 627h1v1h-1zM750 627h1v1h-1zM1155 627h1v1h-1zM1219 627h1v1h-1zM44 632h1v1h-1zM130 632h2v1h-2zM322 632h6v1h-6zM417 632h1v1h-1zM424 632h1v1h-1zM642 632h1v1h-1zM667 632h1v1h-1zM686 632h1v1h-1zM696 632h1v1h-1zM698 632h1v1h-1zM1198 632h2v1h-2zM45 633h1v1h-1zM126 633h2v1h-2zM129 633h1v1h-1zM145 633h1v1h-1zM328 633h1v1h-1zM416 633h1v1h-1zM425 633h1v1h-1zM641 633h1v1h-1zM648 633h1v1h-1zM677 633h1v1h-1zM699 633h1v1h-1zM50 636h13v1h-13zM149 636h2v1h-2zM332 636h1v1h-1zM334 636h2v1h-2zM414 636h1v1h-1zM429 636h2v1h-2zM576 636h1v1h-1zM578 636h3v1h-3zM689 636h5v1h-5zM702 636h1v1h-1zM732 636h1v1h-1zM1049 636h1v1h-1zM63 637h2v1h-2zM139 637h1v1h-1zM151 637h1v1h-1zM333 637h1v1h-1zM431 637h1v1h-1zM575 637h1v1h-1zM581 637h1v1h-1zM590 637h1v1h-1zM639 637h1v1h-1zM651 637h1v1h-1zM679 637h1v1h-1zM703 637h1v1h-1zM952 637h1v1h-1zM1061 637h1v1h-1zM71 654h1v1h-1zM115 654h3v1h-3zM239 654h1v1h-1zM397 654h1v1h-1zM443 654h1v1h-1zM472 654h1v1h-1zM529 654h4v1h-4zM937 654h1v1h-1zM1025 654h1v1h-1zM72 653h1v1h-1zM93 653h5v1h-5zM109 653h6v1h-6zM197 653h1v1h-1zM224 653h1v1h-1zM244 653h1v1h-1zM367 653h1v1h-1zM395 653h2v1h-2zM442 653h1v1h-1zM528 653h1v1h-1zM533 653h4v1h-4zM925 653h1v1h-1zM968 653h1v1h-1zM74 656h1v1h-1zM99 656h1v1h-1zM176 656h1v1h-1zM242 656h1v1h-1zM293 656h1v1h-1zM445 656h2v1h-2zM474 656h1v1h-1zM479 656h1v1h-1zM966 656h1v1h-1zM1013 656h2v1h-2zM75 657h1v1h-1zM119 657h1v1h-1zM175 657h1v1h-1zM241 657h1v1h-1zM265 657h2v1h-2zM447 657h1v1h-1zM475 657h1v1h-1zM965 657h1v1h-1zM1015 657h1v1h-1zM77 660h2v1h-2zM250 660h2v1h-2zM272 660h1v1h-1zM962 660h1v1h-1zM1019 660h2v1h-2zM79 661h1v1h-1zM252 661h2v1h-2zM263 661h1v1h-1zM605 661h1v1h-1zM611 661h1v1h-1zM1021 661h1v1h-1zM81 659h1v1h-1zM101 659h1v1h-1zM249 659h1v1h-1zM270 659h2v1h-2zM295 659h1v1h-1zM477 659h1v1h-1zM963 659h1v1h-1zM1018 659h1v1h-1zM83 655h1v1h-1zM103 655h1v1h-1zM398 655h2v1h-2zM444 655h1v1h-1zM473 655h1v1h-1zM480 655h1v1h-1zM85 651h5v1h-5zM105 651h1v1h-1zM194 651h1v1h-1zM222 651h1v1h-1zM281 651h1v1h-1zM290 651h1v1h-1zM347 651h1v1h-1zM393 651h1v1h-1zM455 651h2v1h-2zM470 651h1v1h-1zM483 651h1v1h-1zM488 651h1v1h-1zM526 651h1v1h-1zM560 651h1v1h-1zM935 651h1v1h-1zM90 652h3v1h-3zM106 652h3v1h-3zM195 652h2v1h-2zM223 652h1v1h-1zM245 652h1v1h-1zM280 652h1v1h-1zM346 652h1v1h-1zM394 652h1v1h-1zM457 652h1v1h-1zM482 652h1v1h-1zM527 652h1v1h-1zM537 652h1v1h-1zM1011 652h1v1h-1zM141 640h1v1h-1zM156 640h2v1h-2zM339 640h1v1h-1zM375 640h3v1h-3zM436 640h1v1h-1zM510 640h2v1h-2zM592 640h1v1h-1zM634 640h2v1h-2zM653 640h3v1h-3zM729 640h1v1h-1zM906 640h1v1h-1zM978 640h1v1h-1zM993 640h1v1h-1zM1038 640h1v1h-1zM1047 640h1v1h-1zM152 638h2v1h-2zM432 638h3v1h-3zM513 638h1v1h-1zM574 638h1v1h-1zM704 638h1v1h-1zM950 638h2v1h-2zM974 638h3v1h-3zM1060 638h1v1h-1zM158 641h2v1h-2zM184 641h2v1h-2zM378 641h1v1h-1zM509 641h1v1h-1zM583 641h1v1h-1zM593 641h1v1h-1zM636 641h2v1h-2zM713 641h1v1h-1zM907 641h1v1h-1zM979 641h1v1h-1zM994 641h1v1h-1zM1001 641h1v1h-1zM1039 641h1v1h-1zM1058 641h1v1h-1zM164 644h1v1h-1zM380 644h1v1h-1zM498 644h2v1h-2zM504 644h2v1h-2zM546 644h2v1h-2zM550 644h2v1h-2zM595 644h1v1h-1zM710 644h1v1h-1zM722 644h1v1h-1zM910 644h2v1h-2zM991 644h1v1h-1zM1043 644h3v1h-3zM165 645h2v1h-2zM230 645h1v1h-1zM381 645h5v1h-5zM500 645h1v1h-1zM502 645h2v1h-2zM517 645h1v1h-1zM544 645h2v1h-2zM552 645h2v1h-2zM596 645h2v1h-2zM709 645h1v1h-1zM723 645h1v1h-1zM912 645h1v1h-1zM916 645h3v1h-3zM987 645h1v1h-1zM1003 645h1v1h-1zM167 646h1v1h-1zM201 646h3v1h-3zM231 646h1v1h-1zM285 646h1v1h-1zM313 646h3v1h-3zM358 646h1v1h-1zM386 646h2v1h-2zM461 646h5v1h-5zM501 646h1v1h-1zM518 646h2v1h-2zM542 646h2v1h-2zM568 646h1v1h-1zM598 646h2v1h-2zM618 646h1v1h-1zM724 646h1v1h-1zM913 646h3v1h-3zM919 646h3v1h-3zM941 646h3v1h-3zM1031 646h3v1h-3zM174 658h1v1h-1zM267 658h3v1h-3zM448 658h1v1h-1zM476 658h1v1h-1zM964 658h1v1h-1zM1016 658h2v1h-2zM191 647h1v1h-1zM204 647h4v1h-4zM232 647h1v1h-1zM284 647h1v1h-1zM286 647h1v1h-1zM312 647h1v1h-1zM316 647h1v1h-1zM359 647h1v1h-1zM363 647h1v1h-1zM388 647h1v1h-1zM407 647h2v1h-2zM466 647h1v1h-1zM520 647h2v1h-2zM541 647h1v1h-1zM566 647h2v1h-2zM600 647h1v1h-1zM619 647h1v1h-1zM725 647h1v1h-1zM929 647h2v1h-2zM944 647h2v1h-2zM1029 647h2v1h-2zM193 650h1v1h-1zM212 650h1v1h-1zM289 650h1v1h-1zM310 650h1v1h-1zM348 650h2v1h-2zM391 650h2v1h-2zM453 650h2v1h-2zM469 650h1v1h-1zM487 650h1v1h-1zM525 650h1v1h-1zM557 650h3v1h-3zM561 650h2v1h-2zM927 650h1v1h-1zM939 650h1v1h-1zM208 648h3v1h-3zM233 648h3v1h-3zM283 648h1v1h-1zM287 648h1v1h-1zM360 648h3v1h-3zM389 648h1v1h-1zM467 648h1v1h-1zM485 648h1v1h-1zM522 648h2v1h-2zM540 648h1v1h-1zM555 648h1v1h-1zM564 648h2v1h-2zM620 648h2v1h-2zM931 648h3v1h-3zM989 648h1v1h-1zM1007 648h3v1h-3zM211 649h1v1h-1zM236 649h1v1h-1zM288 649h1v1h-1zM365 649h1v1h-1zM390 649h1v1h-1zM459 649h1v1h-1zM468 649h1v1h-1zM486 649h1v1h-1zM524 649h1v1h-1zM539 649h1v1h-1zM556 649h1v1h-1zM563 649h1v1h-1zM1005 649h2v1h-2zM254 662h2v1h-2zM297 662h1v1h-1zM606 662h1v1h-1zM256 663h2v1h-2zM607 663h1v1h-1zM258 664h2v1h-2zM304 664h1v1h-1zM608 664h1v1h-1zM260 665h2v1h-2zM299 665h1v1h-1zM609 665h1v1h-1zM301 668h1v1h-1zM302 667h1v1h-1zM738 626h5v1h-5zM748 626h2v1h-2zM813 626h1v1h-1zM1156 626h1v1h-1zM1233 626h3v1h-3zM743 625h1v1h-1zM747 625h1v1h-1zM765 625h1v1h-1zM795 625h1v1h-1zM799 625h1v1h-1zM812 625h1v1h-1zM891 625h1v1h-1zM1175 625h1v1h-1zM1236 625h10v1h-10zM744 624h3v1h-3zM766 624h2v1h-2zM800 624h1v1h-1zM758 618h3v1h-3zM776 618h1v1h-1zM872 618h2v1h-2zM1125 618h1v1h-1zM1250 618h1v1h-1zM761 619h1v1h-1zM775 619h1v1h-1zM871 619h1v1h-1zM884 619h1v1h-1zM1184 619h1v1h-1zM1225 619h5v1h-5zM1251 619h1v1h-1zM763 622h1v1h-1zM769 622h3v1h-3zM793 622h1v1h-1zM802 622h4v1h-4zM810 622h1v1h-1zM888 622h2v1h-2zM1177 622h5v1h-5zM1222 622h1v1h-1zM768 623h1v1h-1zM801 623h1v1h-1zM815 623h1v1h-1zM1221 623h1v1h-1zM772 621h2v1h-2zM806 621h4v1h-4zM887 621h1v1h-1zM1182 621h1v1h-1zM1223 621h1v1h-1zM1247 621h1v1h-1zM1253 621h1v1h-1zM774 620h1v1h-1zM817 620h9v1h-9zM869 620h2v1h-2zM885 620h2v1h-2zM1183 620h1v1h-1zM1224 620h1v1h-1zM1252 620h1v1h-1zM777 617h1v1h-1zM827 617h1v1h-1zM874 617h1v1h-1zM1249 617h1v1h-1zM1255 617h1v1h-1zM783 605h1v1h-1zM856 605h1v1h-1zM1086 605h1v1h-1zM785 601h1v1h-1zM829 614h1v1h-1zM1101 614h3v1h-3zM1106 614h3v1h-3zM1123 614h1v1h-1zM1127 614h1v1h-1zM1142 614h2v1h-2zM830 613h1v1h-1zM1109 613h1v1h-1zM1168 613h1v1h-1zM1257 613h1v1h-1zM831 612h2v1h-2zM1110 612h3v1h-3zM1167 612h1v1h-1zM1258 612h2v1h-2zM833 611h1v1h-1zM1099 611h1v1h-1zM1113 611h1v1h-1zM1132 611h2v1h-2zM1166 611h1v1h-1zM1260 611h1v1h-1zM834 610h1v1h-1zM840 610h1v1h-1zM1077 610h1v1h-1zM1114 610h3v1h-3zM1119 610h3v1h-3zM1129 610h3v1h-3zM1165 610h1v1h-1zM836 607h1v1h-1zM838 607h1v1h-1zM852 607h1v1h-1zM854 607h1v1h-1zM1080 607h3v1h-3zM1096 607h1v1h-1zM837 606h1v1h-1zM855 606h1v1h-1zM1083 606h3v1h-3zM846 602h2v1h-2zM1089 602h3v1h-3zM848 603h2v1h-2zM1088 603h1v1h-1zM1092 603h2v1h-2zM850 604h1v1h-1zM857 604h4v1h-4zM1087 604h1v1h-1zM1094 604h1v1h-1zM853 608h1v1h-1zM1079 608h1v1h-1zM1097 608h1v1h-1zM875 616h2v1h-2zM882 616h1v1h-1zM1145 616h5v1h-5zM877 615h5v1h-5zM1104 615h2v1h-2zM1144 615h1v1h-1zM1078 609h1v1h-1zM1117 609h2v1h-2z" fill="#1e90ff" shape-rendering="crispEdges"/>
<path d="M5 732h2v1h-2zM27 732h12v1h-12zM81 732h2v1h-2zM693 732h16v1h-16zM756 732h3v1h-3zM946 732h2v1h-2zM1084 732h3v1h-3zM7 733h20v1h-20zM83 733h3v1h-3zM685 733h8v1h-8zM709 733h5v1h-5zM753 733h3v1h-3zM948 733h6v1h-6zM1083 733h1v1h-1zM39 731h16v1h-16zM77 731h4v1h-4zM759 731h3v1h-3zM943 731h3v1h-3zM1087 731h1v1h-1zM55 730h22v1h-22zM762 730h3v1h-3zM941 730h2v1h-2zM1088 730h3v1h-3zM86 734h2v1h-2zM162 734h14v1h-14zM679 734h6v1h-6zM714 734h12v1h-12zM749 734h4v1h-4zM954 734h8v1h-8zM1080 734h3v1h-3zM88 735h3v1h-3zM157 735h5v1h-5zM176 735h13v1h-13zM675 735h4v1h-4zM726 735h3v1h-3zM745 735h4v1h-4zM962 735h5v1h-5zM1079 735h1v1h-1zM91 736h3v1h-3zM152 736h5v1h-5zM189 736h4v1h-4zM671 736h4v1h-4zM729 736h6v1h-6zM741 736h4v1h-4zM967 736h5v1h-5zM1076 736h3v1h-3zM94 737h3v1h-3zM148 737h4v1h-4zM193 737h4v1h-4zM667 737h4v1h-4zM735 737h6v1h-6zM972 737h5v1h-5zM1075 737h1v1h-1zM97 738h3v1h-3zM144 738h4v1h-4zM197 738h20v1h-20zM664 738h3v1h-3zM977 738h8v1h-8zM1072 738h3v1h-3zM100 739h3v1h-3zM140 739h4v1h-4zM217 739h5v1h-5zM597 739h20v1h-20zM661 739h3v1h-3zM985 739h31v1h-31zM1069 739h3v1h-3zM103 740h6v1h-6zM136 740h4v1h-4zM222 740h20v1h-20zM589 740h8v1h-8zM617 740h5v1h-5zM657 740h4v1h-4zM1016 740h4v1h-4zM1062 740h7v1h-7zM109 741h9v1h-9zM129 741h7v1h-7zM242 741h9v1h-9zM586 741h3v1h-3zM622 741h4v1h-4zM653 741h4v1h-4zM1020 741h11v1h-11zM1058 741h4v1h-4zM118 742h11v1h-11zM251 742h3v1h-3zM581 742h5v1h-5zM626 742h5v1h-5zM649 742h4v1h-4zM1031 742h4v1h-4zM1054 742h4v1h-4zM254 743h3v1h-3zM577 743h4v1h-4zM631 743h3v1h-3zM642 743h7v1h-7zM1035 743h8v1h-8zM1051 743h3v1h-3zM257 744h3v1h-3zM347 744h21v1h-21zM573 744h4v1h-4zM634 744h8v1h-8zM1043 744h8v1h-8zM260 745h3v1h-3zM345 745h2v1h-2zM368 745h3v1h-3zM438 745h18v1h-18zM569 745h4v1h-4zM263 746h5v1h-5zM342 746h3v1h-3zM371 746h3v1h-3zM436 746h2v1h-2zM456 746h3v1h-3zM563 746h6v1h-6zM268 747h3v1h-3zM340 747h2v1h-2zM374 747h3v1h-3zM434 747h2v1h-2zM459 747h4v1h-4zM558 747h5v1h-5zM271 748h15v1h-15zM338 748h2v1h-2zM377 748h9v1h-9zM431 748h3v1h-3zM463 748h3v1h-3zM534 748h24v1h-24zM286 749h16v1h-16zM335 749h3v1h-3zM386 749h11v1h-11zM428 749h3v1h-3zM466 749h3v1h-3zM527 749h7v1h-7zM302 750h6v1h-6zM331 750h4v1h-4zM397 750h10v1h-10zM424 750h4v1h-4zM469 750h3v1h-3zM520 750h7v1h-7zM308 751h11v1h-11zM328 751h3v1h-3zM407 751h17v1h-17zM472 751h3v1h-3zM515 751h5v1h-5zM319 752h9v1h-9zM475 752h3v1h-3zM511 752h4v1h-4zM478 753h6v1h-6zM507 753h4v1h-4zM484 754h23v1h-23zM765 729h3v1h-3zM939 729h2v1h-2zM1091 729h1v1h-1zM768 728h2v1h-2zM936 728h3v1h-3zM1092 728h2v1h-2zM770 727h2v1h-2zM935 727h1v1h-1zM1094 727h2v1h-2zM772 726h3v1h-3zM932 726h3v1h-3zM1096 726h1v1h-1zM775 725h2v1h-2zM931 725h1v1h-1zM1097 725h2v1h-2zM777 724h3v1h-3zM928 724h3v1h-3zM1099 724h2v1h-2zM780 723h3v1h-3zM927 723h1v1h-1zM1101 723h1v1h-1zM783 722h4v1h-4zM924 722h3v1h-3zM1102 722h3v1h-3zM1229 722h25v1h-25zM787 721h3v1h-3zM923 721h1v1h-1zM1105 721h1v1h-1zM1222 721h7v1h-7zM1254 721h9v1h-9zM790 720h3v1h-3zM920 720h3v1h-3zM1106 720h3v1h-3zM1215 720h7v1h-7zM793 719h3v1h-3zM919 719h1v1h-1zM1109 719h1v1h-1zM1209 719h6v1h-6zM796 718h3v1h-3zM916 718h3v1h-3zM1110 718h3v1h-3zM1203 718h6v1h-6zM799 717h5v1h-5zM914 717h2v1h-2zM1113 717h3v1h-3zM1177 717h26v1h-26zM804 716h37v1h-37zM911 716h3v1h-3zM1116 716h4v1h-4zM1172 716h5v1h-5zM841 715h3v1h-3zM908 715h3v1h-3zM1120 715h16v1h-16zM1154 715h18v1h-18zM844 714h4v1h-4zM906 714h2v1h-2zM1136 714h18v1h-18zM848 713h4v1h-4zM903 713h3v1h-3zM852 712h4v1h-4zM900 712h3v1h-3zM856 711h4v1h-4zM897 711h3v1h-3zM860 710h5v1h-5zM894 710h3v1h-3zM865 709h5v1h-5zM886 709h8v1h-8zM870 708h16v1h-16z" fill="#ff0000" shape-rendering="crispEdges"/>
</svg>
<div id="topbar" class="abs"></div><div id="topline1" class="abs"></div><div id="topline2" class="abs"></div>
<div id="leftl1" class="abs"></div><div id="leftl2" class="abs"></div>
<!-- toolbar bits -->
<div class="abs" style="left:19px;top:0;width:1px;height:18px;background:#a0a0a0"></div>
<div class="abs" style="left:20px;top:0;width:1px;height:18px;background:#fff"></div>
<div class="abs" style="left:23px;top:0;width:3px;height:15px;background:repeating-linear-gradient(#a8a8a8 0,#a8a8a8 1px,#f0f0f0 1px,#f0f0f0 2px)"></div>
<svg class="abs" style="left:8px;top:5px" width="5" height="3" shape-rendering="crispEdges"><path d="M0 0h5v1h-5zM1 1h3v1h-3zM2 2h1v1h-1z" fill="#000"/></svg>
<div class="abs" style="left:0;top:9px;width:1px;height:1px;background:#333"></div>
<div class="abs" style="left:197px;top:0;width:25px;height:16px;background:#f8f8f8;border-left:1px solid #a0a0a0"></div>
<div class="abs" style="left:280px;top:0;width:1px;height:18px;background:#a0a0a0"></div>
<div class="abs" style="left:281px;top:0;width:1px;height:18px;background:#fff"></div>
<span class="tf" style="left:34px">M1</span><span class="tf" style="left:62px">M5</span><span class="tf" style="left:88px">M15</span><span class="tf" style="left:116px">M30</span><span class="tf" style="left:147px">H1</span><span class="tf" style="left:174px">H4</span><span class="tf" style="left:203px">D1</span><span class="tf" style="left:231px">W1</span><span class="tf" style="left:258px">MN</span>
<!-- speed overlay -->
<div class="abs" style="left:745px;top:-14px;width:63.8px;height:28.3px;background:#2f323f;border-radius:0 0 15px 0"></div>
<div class="abs" style="left:692.8px;top:-37px;width:60.2px;height:60.2px;border-radius:50%;background:linear-gradient(160deg,#5c606f,#525666);box-shadow:0 0 2px rgba(60,64,80,.5)"></div>
<div class="abs" style="left:707px;top:-7.5px;font-size:13px;color:#fff;white-space:nowrap;line-height:12px;letter-spacing:1px">0&nbsp; 1%</div><div class="abs" style="left:746px;top:-3px;width:2px;height:6px;background:#6fdc6f;transform:rotate(12deg)"></div>
<svg class="abs" style="left:755px;top:1px" width="8" height="7"><path d="M3.5 0v5.5M0.8 3L3.5 5.8L6.2 3" stroke="#3fc23f" stroke-width="1.4" fill="none"/></svg>
<div class="abs" style="left:772px;top:-1.5px;font-size:10.5px;line-height:12px;color:#fff;white-space:nowrap">1.1<span style="font-size:9.3px;color:#c4c8d2;margin-left:2px">K/s</span></div>
<svg class="abs" style="left:1265px;top:23px" width="10" height="5"><path d="M0 0h9.5L4.75 5z" fill="#7187a4"/></svg>
<div class="abs" style="left:5px;top:40px;width:1px;height:1px;background:#9932ff"></div><div class="abs" style="left:5px;top:48px;width:1px;height:15px;background:#00ff00"></div>
<!-- one click trading -->
<div class="rbtn" style="left:8px;top:42px;width:52px;height:24px;line-height:24px;text-indent:-2px">SELL</div>
<div class="rbtn" style="left:176px;top:42px;width:51px;height:24px;line-height:24px;text-indent:-2px;letter-spacing:0">BUY</div>
<div class="abs" style="left:62px;top:42px;width:111px;height:22px;border:1px solid #a4abb3;box-sizing:border-box;background:#fff"></div>
<div class="abs" style="left:63px;top:43px;width:21px;height:20px;background:#e8e8e8;border-right:1px solid #a4abb3;box-sizing:border-box"></div>
<div class="abs" style="left:151px;top:43px;width:21px;height:20px;background:#e8e8e8;border-left:1px solid #a4abb3;box-sizing:border-box"></div>
<svg class="abs" style="left:69px;top:51px" width="7" height="4"><path d="M0 0h7L3.5 4z" fill="#000"/></svg>
<svg class="abs" style="left:158px;top:51px" width="7" height="4"><path d="M0 4h7L3.5 0z" fill="#000"/></svg>
<div class="abs" style="left:84px;top:44px;width:65px;height:19px;line-height:18.6px;font-size:13px;color:#000;text-align:right">1.00</div>
<div class="pbox" style="left:8px;width:109px"><span class="sm" style="left:19.5px">6.50</span><span class="bg" style="left:46.6px">66</span><span class="sup" style="left:87px">5</span></div>
<div class="pbox" style="left:119px;width:108px"><span class="sm" style="left:18.5px">6.50</span><span class="bg" style="left:46px">91</span><span class="sup" style="left:86.8px">3</span></div>
<div class="abs" style="left:12px;top:65px;width:44px;height:1px;background:#8c0000"></div><div class="abs" style="left:12px;top:66px;width:44px;height:1px;background:#ee6464"></div>
<div class="abs" style="left:180px;top:65px;width:44px;height:1px;background:#8c0000"></div><div class="abs" style="left:180px;top:66px;width:44px;height:1px;background:#ee6464"></div>
<!-- tabs -->
<div id="tabline0" class="abs"></div><div id="tabbar" class="abs"></div><div id="tabline" class="abs"></div>
<div class="abs" style="left:0;top:783px;width:1px;height:18px;background:#a0a0a0"></div><div class="abs" style="left:1px;top:783px;width:1px;height:17px;background:#696969"></div>
<div id="acttab" class="abs"></div>
<span class="tab" style="left:16.8px;letter-spacing:0.00px">EURUSD,H4</span><i class="sep" style="left:98px"></i>
<span class="tab" style="left:107.6px;letter-spacing:0.31px">AUDUSD,Daily</span><i class="sep" style="left:201px"></i>
<span class="tab" style="left:210.9px;letter-spacing:0.11px">USDCHF,H4</span><i class="sep" style="left:290px"></i>
<span class="tab" style="left:300.1px;letter-spacing:0.14px">USDCAD,Daily</span>
<span class="tab" style="left:403.7px;letter-spacing:0.21px;color:#000">USDCNH,Daily</span>
<span class="tab" style="left:508.2px;letter-spacing:0.03px">USOUSD,H1</span><i class="sep" style="left:589px"></i>
<span class="tab" style="left:600.0px;letter-spacing:0.12px">XAUUSD,H1</span><i class="sep" style="left:682px"></i>
<svg class="abs" style="left:1602px;top:787px" width="24" height="8"><path d="M4 0v7L0.5 3.5zM19.5 0v7L23 3.5z" fill="#808080"/></svg>
<svg class="abs" style="left:1285px;top:698px" width="280" height="40" viewBox="0 0 280 40">
<defs><linearGradient id="lg" x1="0" y1="0" x2="1" y2="1"><stop offset="0" stop-color="#5048ee"/><stop offset="0.3" stop-color="#3672f5"/><stop offset="0.7" stop-color="#2f86f9"/><stop offset="1" stop-color="#48ccff"/></linearGradient></defs>
<rect x="22.5" y="5.5" width="249" height="27" fill="#fff" stroke="#a8c4f4"/>
<path d="M17 4h5.5a10.5 10.5 0 0 1 10.5 10.5v5a10.5 10.5 0 0 1 -10.5 10.5h-1.5q-2.5 3 -6 4q1.2 -2.2 1 -4.2a10.5 10.5 0 0 1 -10 -10.3v-5a10.5 10.5 0 0 1 10.5 -10.5z" fill="url(#lg)"/>
<text x="0" y="0" transform="translate(18.6 24.2) skewX(-9) scale(1.12 0.98)" font-family="Noto Sans CJK SC, sans-serif" font-weight="900" font-size="17" fill="#fff" text-anchor="middle">王</text>
<g fill="#2b6fdf" stroke="none">
<text x="49" y="24.7" font-family="Noto Sans CJK SC, sans-serif" font-weight="500" font-size="15.2" stroke="#2b6fdf" stroke-width="0.35" text-anchor="middle">中</text>
<path d="M75.6 19.4a2.3 2.3 0 0 1 2.4 2.6q-.2 2.6 -4.6 4l-.7-.9q2.3-.9 2.5-2a2 2 0 0 1 -1.8-1.9a2.1 2.1 0 0 1 2.2-1.8z"/>
<circle cx="94.5" cy="18.5" r="6.6" fill="none" stroke="#2b6fdf" stroke-width="1.6"/>
<circle cx="92.1" cy="16.4" r="1.05"/><circle cx="96.9" cy="16.4" r="1.05"/>
<path d="M90.6 19.4q3.9 1.6 7.8 0q-.9 3.4 -3.9 3.4q-3 0 -3.9 -3.4z"/>
<rect x="111" y="25" width="14" height="1.7"/>
<path d="M112.3 23.6l.9-3.6l7.6-7.6q1.4-1.2 2.7 0q1.2 1.3 0 2.7l-7.6 7.6z"/>
<path d="M179 15a1.8 1.8 0 0 1 1.8-1.8h12.6a1.8 1.8 0 0 1 1.8 1.8v8.300000000000001a1.8 1.8 0 0 1 -1.8 1.8h-12.6a1.8 1.8 0 0 1 -1.8-1.8z"/>
<path d="M225 16.6l4.300000000000001-3.5h1.5q1.6 1.6 3.2 0h1.5l4.300000000000001 3.5l-1.9 2.6l-1.7-1v7.6h-7.6v-7.6l-1.7 1z"/>
<path d="M253.7 12.1L258.1 12.1L258.7 14.3L258.7 14.4L260.9 13.8L263.1 17.6L261.5 19.2L261.5 19.2L263.1 20.8L260.9 24.6L258.7 24.0L258.7 24.1L258.1 26.3L253.7 26.3L253.1 24.1L253.1 24.0L250.9 24.6L248.7 20.8L250.3 19.2L250.3 19.2L248.7 17.6L250.9 13.8L253.1 14.4L253.1 14.3ZM252.8 19.2a3.1 3.1 0 1 0 6.2 0a3.1 3.1 0 1 0 -6.2 0Z" fill-rule="evenodd"/>
</g>
<path d="M119.3 13.7l3.2 3.2" stroke="#fff" stroke-width="0.8" fill="none"/><g fill="#fff"><rect x="181.3" y="15.4" width="1.9" height="1.7"/><rect x="184.7" y="15.4" width="1.9" height="1.7"/><rect x="188.1" y="15.4" width="1.9" height="1.7"/><rect x="191.5" y="15.4" width="1.9" height="1.7"/><rect x="181.3" y="18.2" width="1.9" height="1.7"/><rect x="184.7" y="18.2" width="1.9" height="1.7"/><rect x="188.1" y="18.2" width="1.9" height="1.7"/><rect x="191.5" y="18.2" width="1.9" height="1.7"/><rect x="181.3" y="21" width="1.9" height="1.7"/><rect x="184.4" y="21" width="5.6" height="1.7"/><rect x="191.5" y="21" width="1.9" height="1.7"/></g>
<circle cx="69" cy="16.8" r="2.1" fill="none" stroke="#2b6fdf" stroke-width="1.5"/>
<g fill="none" stroke="#2b6fdf" stroke-width="1.7" stroke-linecap="round">
<path d="M134.9 13.7L144.3 21.3M146.9 13.7L137.5 21.3" stroke-width="2.3" stroke-linecap="butt"/>
<circle cx="136.4" cy="22.8" r="2.1" stroke-width="1.7"/><circle cx="145.4" cy="22.8" r="2.1" stroke-width="1.7"/>
<path d="M160.6 24.8A3.75 3.75 0 0 1 160.3 17.3A4.7 4.7 0 0 1 169.3 18A3.4 3.4 0 0 1 169.2 24.8Z" stroke-width="1.9" stroke-linejoin="round"/>
</g>
<g fill="#bdd3f5"><circle cx="210" cy="15.1" r="3.1"/><path d="M203.8 25.8v-1.3a6.2 5.2 0 0 1 12.4 0v1.3z"/></g>
<circle cx="239.5" cy="10.6" r="3.6" fill="#f4512f"/>
</svg>
</body></html>
